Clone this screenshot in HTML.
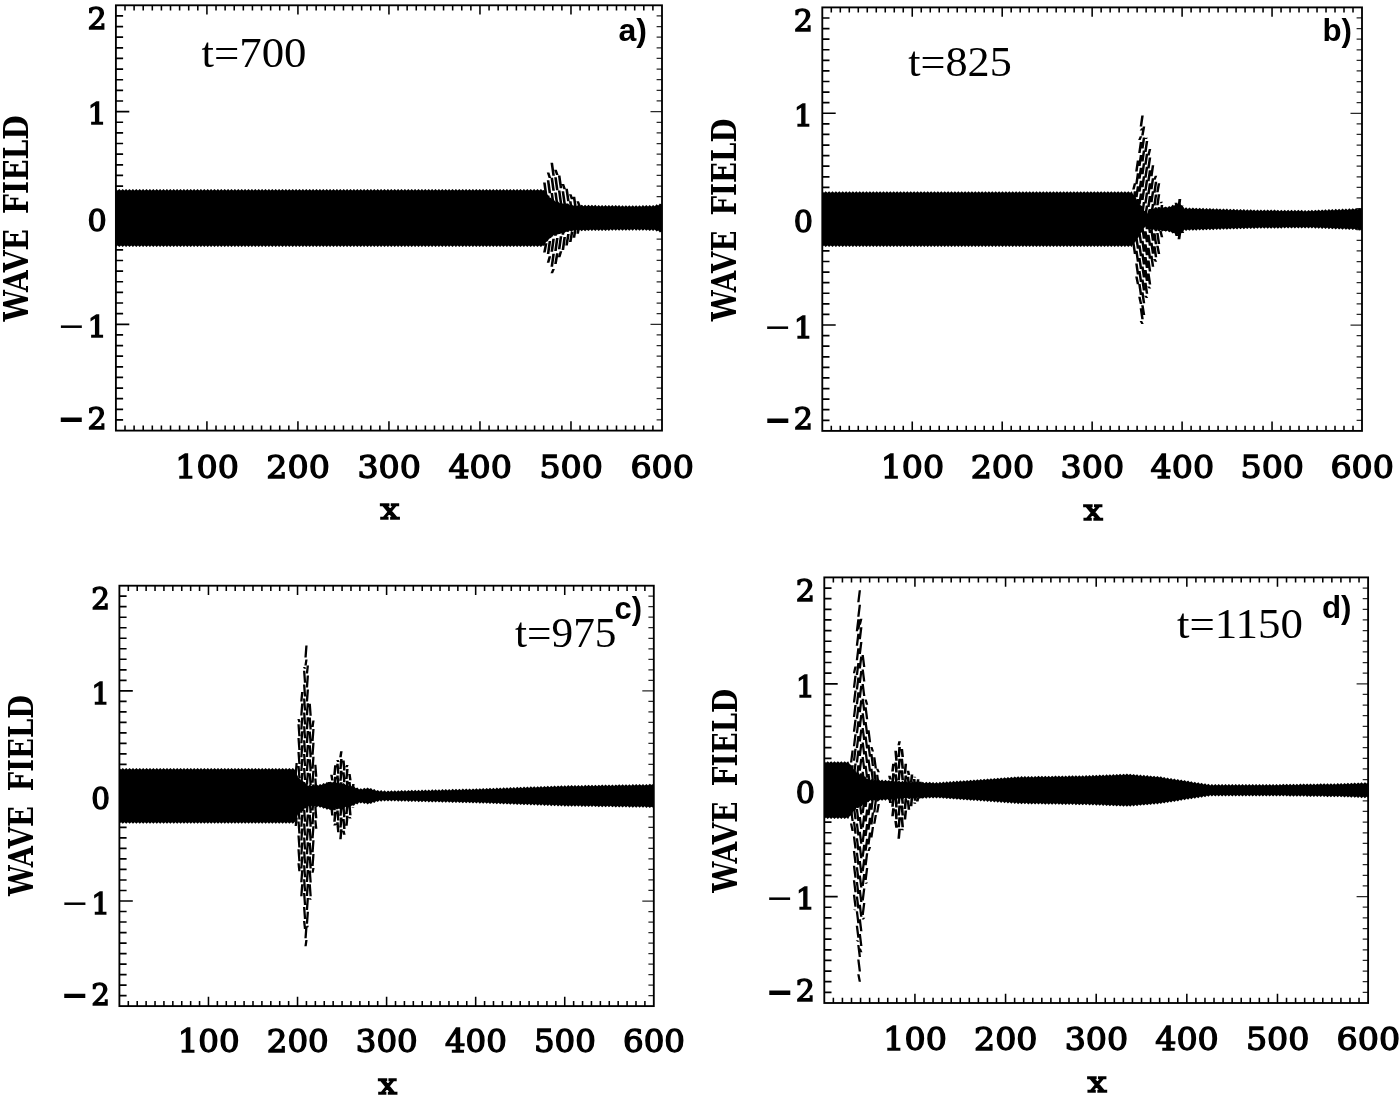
<!DOCTYPE html>
<html lang="en">
<head>
<meta charset="utf-8">
<title>Wave field snapshots</title>
<style>
html,body{margin:0;padding:0;background:#fff;}
body{width:1400px;height:1097px;overflow:hidden;}
svg{display:block;}
</style>
</head>
<body>
<svg width="1400" height="1097" viewBox="0 0 1400 1097" font-family='"Liberation Serif", "DejaVu Serif", serif' font-weight="bold" fill="#000">
<rect width="1400" height="1097" fill="#fff"/>
<g>
<path d="M125 5.3v5.2M134.1 5.3v5.2M143.21 5.3v5.2M152.31 5.3v5.2M161.41 5.3v5.2M170.51 5.3v5.2M179.61 5.3v5.2M188.71 5.3v5.2M197.81 5.3v5.2M206.92 5.3v9.3M216.02 5.3v5.2M225.12 5.3v5.2M234.22 5.3v5.2M243.32 5.3v5.2M252.43 5.3v5.2M261.53 5.3v5.2M270.63 5.3v5.2M279.73 5.3v5.2M288.83 5.3v5.2M297.93 5.3v9.3M307.03 5.3v5.2M316.14 5.3v5.2M325.24 5.3v5.2M334.34 5.3v5.2M343.44 5.3v5.2M352.54 5.3v5.2M361.64 5.3v5.2M370.75 5.3v5.2M379.85 5.3v5.2M388.95 5.3v9.3M398.05 5.3v5.2M407.15 5.3v5.2M416.25 5.3v5.2M425.36 5.3v5.2M434.46 5.3v5.2M443.56 5.3v5.2M452.66 5.3v5.2M461.76 5.3v5.2M470.87 5.3v5.2M479.97 5.3v9.3M489.07 5.3v5.2M498.17 5.3v5.2M507.27 5.3v5.2M516.37 5.3v5.2M525.48 5.3v5.2M534.58 5.3v5.2M543.68 5.3v5.2M552.78 5.3v5.2M561.88 5.3v5.2M570.98 5.3v9.3M580.09 5.3v5.2M589.19 5.3v5.2M598.29 5.3v5.2M607.39 5.3v5.2M616.49 5.3v5.2M625.59 5.3v5.2M634.69 5.3v5.2M643.8 5.3v5.2M652.9 5.3v5.2M125 430.6v-5.2M134.1 430.6v-5.2M143.21 430.6v-5.2M152.31 430.6v-5.2M161.41 430.6v-5.2M170.51 430.6v-5.2M179.61 430.6v-5.2M188.71 430.6v-5.2M197.81 430.6v-5.2M206.92 430.6v-9.3M216.02 430.6v-5.2M225.12 430.6v-5.2M234.22 430.6v-5.2M243.32 430.6v-5.2M252.43 430.6v-5.2M261.53 430.6v-5.2M270.63 430.6v-5.2M279.73 430.6v-5.2M288.83 430.6v-5.2M297.93 430.6v-9.3M307.03 430.6v-5.2M316.14 430.6v-5.2M325.24 430.6v-5.2M334.34 430.6v-5.2M343.44 430.6v-5.2M352.54 430.6v-5.2M361.64 430.6v-5.2M370.75 430.6v-5.2M379.85 430.6v-5.2M388.95 430.6v-9.3M398.05 430.6v-5.2M407.15 430.6v-5.2M416.25 430.6v-5.2M425.36 430.6v-5.2M434.46 430.6v-5.2M443.56 430.6v-5.2M452.66 430.6v-5.2M461.76 430.6v-5.2M470.87 430.6v-5.2M479.97 430.6v-9.3M489.07 430.6v-5.2M498.17 430.6v-5.2M507.27 430.6v-5.2M516.37 430.6v-5.2M525.48 430.6v-5.2M534.58 430.6v-5.2M543.68 430.6v-5.2M552.78 430.6v-5.2M561.88 430.6v-5.2M570.98 430.6v-9.3M580.09 430.6v-5.2M589.19 430.6v-5.2M598.29 430.6v-5.2M607.39 430.6v-5.2M616.49 430.6v-5.2M625.59 430.6v-5.2M634.69 430.6v-5.2M643.8 430.6v-5.2M652.9 430.6v-5.2" stroke="#000" stroke-width="1.55" fill="none"/>
<path d="M115.9 419.97h7.2M115.9 409.34h7.2M115.9 398.7h7.2M115.9 388.07h7.2M115.9 377.44h7.2M115.9 366.81h7.2M115.9 356.17h7.2M115.9 345.54h7.2M115.9 334.91h7.2M115.9 324.28h13.4M115.9 313.64h7.2M115.9 303.01h7.2M115.9 292.38h7.2M115.9 281.75h7.2M115.9 271.11h7.2M115.9 260.48h7.2M115.9 249.85h7.2M115.9 239.22h7.2M115.9 228.58h7.2M115.9 217.95h13.4M115.9 207.32h7.2M115.9 196.69h7.2M115.9 186.05h7.2M115.9 175.42h7.2M115.9 164.79h7.2M115.9 154.16h7.2M115.9 143.52h7.2M115.9 132.89h7.2M115.9 122.26h7.2M115.9 111.62h13.4M115.9 100.99h7.2M115.9 90.36h7.2M115.9 79.73h7.2M115.9 69.1h7.2M115.9 58.46h7.2M115.9 47.83h7.2M115.9 37.2h7.2M115.9 26.57h7.2M115.9 15.93h7.2" stroke="#000" stroke-width="1.7" fill="none"/>
<path d="M662 419.97h-5.4M662 409.34h-5.4M662 398.7h-5.4M662 388.07h-5.4M662 377.44h-5.4M662 366.81h-5.4M662 356.17h-5.4M662 345.54h-5.4M662 334.91h-5.4M662 324.28h-11.5M662 313.64h-5.4M662 303.01h-5.4M662 292.38h-5.4M662 281.75h-5.4M662 271.11h-5.4M662 260.48h-5.4M662 249.85h-5.4M662 239.22h-5.4M662 228.58h-5.4M662 217.95h-11.5M662 207.32h-5.4M662 196.69h-5.4M662 186.05h-5.4M662 175.42h-5.4M662 164.79h-5.4M662 154.16h-5.4M662 143.52h-5.4M662 132.89h-5.4M662 122.26h-5.4M662 111.62h-11.5M662 100.99h-5.4M662 90.36h-5.4M662 79.73h-5.4M662 69.1h-5.4M662 58.46h-5.4M662 47.83h-5.4M662 37.2h-5.4M662 26.57h-5.4M662 15.93h-5.4" stroke="#2a2a2a" stroke-width="1.25" fill="none"/>
<polygon points="115.9,188.92 117.6,190.42 119.3,188.92 121,190.42 122.7,188.92 124.4,190.42 126.1,188.92 127.8,190.42 129.5,188.92 131.2,190.42 132.9,188.92 134.6,190.42 136.3,188.92 138,190.42 139.7,188.92 141.4,190.42 143.1,188.92 144.8,190.42 146.5,188.92 148.2,190.42 149.9,188.92 151.6,190.42 153.3,188.92 155,190.42 156.7,188.92 158.4,190.42 160.1,188.92 161.8,190.42 163.5,188.92 165.2,190.42 166.9,188.92 168.6,190.42 170.3,188.92 172,190.42 173.7,188.92 175.4,190.42 177.1,188.92 178.8,190.42 180.5,188.92 182.2,190.42 183.9,188.92 185.6,190.42 187.3,188.92 189,190.42 190.7,188.92 192.4,190.42 194.1,188.92 195.8,190.42 197.5,188.92 199.2,190.42 200.9,188.92 202.6,190.42 204.3,188.92 206,190.42 207.7,188.92 209.4,190.42 211.1,188.92 212.8,190.42 214.5,188.92 216.2,190.42 217.9,188.92 219.6,190.42 221.3,188.92 223,190.42 224.7,188.92 226.4,190.42 228.1,188.92 229.8,190.42 231.5,188.92 233.2,190.42 234.9,188.92 236.6,190.42 238.3,188.92 240,190.42 241.7,188.92 243.4,190.42 245.1,188.92 246.8,190.42 248.5,188.92 250.2,190.42 251.9,188.92 253.6,190.42 255.3,188.92 257,190.42 258.7,188.92 260.4,190.42 262.1,188.92 263.8,190.42 265.5,188.92 267.2,190.42 268.9,188.92 270.6,190.42 272.3,188.92 274,190.42 275.7,188.92 277.4,190.42 279.1,188.92 280.8,190.42 282.5,188.92 284.2,190.42 285.9,188.92 287.6,190.42 289.3,188.92 291,190.42 292.7,188.92 294.4,190.42 296.1,188.92 297.8,190.42 299.5,188.92 301.2,190.42 302.9,188.92 304.6,190.42 306.3,188.92 308,190.42 309.7,188.92 311.4,190.42 313.1,188.92 314.8,190.42 316.5,188.92 318.2,190.42 319.9,188.92 321.6,190.42 323.3,188.92 325,190.42 326.7,188.92 328.4,190.42 330.1,188.92 331.8,190.42 333.5,188.92 335.2,190.42 336.9,188.92 338.6,190.42 340.3,188.92 342,190.42 343.7,188.92 345.4,190.42 347.1,188.92 348.8,190.42 350.5,188.92 352.2,190.42 353.9,188.92 355.6,190.42 357.3,188.92 359,190.42 360.7,188.92 362.4,190.42 364.1,188.92 365.8,190.42 367.5,188.92 369.2,190.42 370.9,188.92 372.6,190.42 374.3,188.92 376,190.42 377.7,188.92 379.4,190.42 381.1,188.92 382.8,190.42 384.5,188.92 386.2,190.42 387.9,188.92 389.6,190.42 391.3,188.92 393,190.42 394.7,188.92 396.4,190.42 398.1,188.92 399.8,190.42 401.5,188.92 403.2,190.42 404.9,188.92 406.6,190.42 408.3,188.92 410,190.42 411.7,188.92 413.4,190.42 415.1,188.92 416.8,190.42 418.5,188.92 420.2,190.42 421.9,188.92 423.6,190.42 425.3,188.92 427,190.42 428.7,188.92 430.4,190.42 432.1,188.92 433.8,190.42 435.5,188.92 437.2,190.42 438.9,188.92 440.6,190.42 442.3,188.92 444,190.42 445.7,188.92 447.4,190.42 449.1,188.92 450.8,190.42 452.5,188.92 454.2,190.42 455.9,188.92 457.6,190.42 459.3,188.92 461,190.42 462.7,188.92 464.4,190.42 466.1,188.92 467.8,190.42 469.5,188.92 471.2,190.42 472.9,188.92 474.6,190.42 476.3,188.92 478,190.42 479.7,188.92 481.4,190.42 483.1,188.92 484.8,190.42 486.5,188.92 488.2,190.42 489.9,188.92 491.6,190.42 493.3,188.92 495,190.42 496.7,188.92 498.4,190.42 500.1,188.92 501.8,190.42 503.5,188.92 505.2,190.42 506.9,188.92 508.6,190.42 510.3,188.92 512,190.42 513.7,188.92 515.4,190.42 517.1,188.92 518.8,190.42 520.5,188.92 522.2,190.42 523.9,188.92 525.6,190.42 527.3,188.92 529,190.42 530.7,188.92 532.4,190.42 534.1,188.92 535.8,190.42 537.5,188.92 539.2,190.42 540.9,188.92 542.6,190.42 544.3,189.84 546,193.88 547.7,194.69 549.4,197.75 551.1,197.81 552.8,200.87 554.5,200.39 556.2,202.32 557.9,201.24 559.6,203.17 561.3,202.09 563,204.02 564.7,202.94 566.4,204.87 568.1,203.59 569.8,205.31 571.5,204.02 573.2,205.74 574.9,204.46 576.6,206.16 578.3,204.67 580,206.19 581.7,204.71 583.4,206.23 585.1,204.75 586.8,206.27 588.5,204.79 590.2,206.3 591.9,204.82 593.6,206.34 595.3,204.86 597,206.38 598.7,204.9 600.4,206.42 602.1,204.93 603.8,206.45 605.5,204.97 607.2,206.49 608.9,205.01 610.6,206.53 612.3,205.05 614,206.56 615.7,205.08 617.4,206.6 619.1,205.12 620.8,206.64 622.5,205.16 624.2,206.68 625.9,205.2 627.6,206.71 629.3,205.23 631,206.75 632.7,205.27 634.4,206.79 636.1,205.26 637.8,206.73 639.5,205.19 641.2,206.65 642.9,205.12 644.6,206.58 646.3,205.05 648,206.51 649.7,204.97 651.4,206.44 653.1,204.9 654.8,206.34 656.5,204.37 658.2,205.4 659.9,203.43 661.6,204.46 662,203.6 662,232.3 661.6,231.44 659.9,232.47 658.2,230.5 656.5,231.53 654.8,229.56 653.1,231 651.4,229.46 649.7,230.93 648,229.39 646.3,230.85 644.6,229.32 642.9,230.78 641.2,229.25 639.5,230.71 637.8,229.17 636.1,230.64 634.4,229.11 632.7,230.63 631,229.15 629.3,230.67 627.6,229.19 625.9,230.7 624.2,229.22 622.5,230.74 620.8,229.26 619.1,230.78 617.4,229.3 615.7,230.82 614,229.34 612.3,230.85 610.6,229.37 608.9,230.89 607.2,229.41 605.5,230.93 603.8,229.45 602.1,230.97 600.4,229.48 598.7,231 597,229.52 595.3,231.04 593.6,229.56 591.9,231.08 590.2,229.6 588.5,231.11 586.8,229.63 585.1,231.15 583.4,229.67 581.7,231.19 580,229.71 578.3,231.23 576.6,229.74 574.9,231.44 573.2,230.16 571.5,231.88 569.8,230.59 568.1,232.31 566.4,231.03 564.7,232.96 563,231.88 561.3,233.81 559.6,232.73 557.9,234.66 556.2,233.58 554.5,235.51 552.8,235.03 551.1,238.09 549.4,238.15 547.7,241.21 546,242.02 544.3,246.06 542.6,245.48 540.9,246.98 539.2,245.48 537.5,246.98 535.8,245.48 534.1,246.98 532.4,245.48 530.7,246.98 529,245.48 527.3,246.98 525.6,245.48 523.9,246.98 522.2,245.48 520.5,246.98 518.8,245.48 517.1,246.98 515.4,245.48 513.7,246.98 512,245.48 510.3,246.98 508.6,245.48 506.9,246.98 505.2,245.48 503.5,246.98 501.8,245.48 500.1,246.98 498.4,245.48 496.7,246.98 495,245.48 493.3,246.98 491.6,245.48 489.9,246.98 488.2,245.48 486.5,246.98 484.8,245.48 483.1,246.98 481.4,245.48 479.7,246.98 478,245.48 476.3,246.98 474.6,245.48 472.9,246.98 471.2,245.48 469.5,246.98 467.8,245.48 466.1,246.98 464.4,245.48 462.7,246.98 461,245.48 459.3,246.98 457.6,245.48 455.9,246.98 454.2,245.48 452.5,246.98 450.8,245.48 449.1,246.98 447.4,245.48 445.7,246.98 444,245.48 442.3,246.98 440.6,245.48 438.9,246.98 437.2,245.48 435.5,246.98 433.8,245.48 432.1,246.98 430.4,245.48 428.7,246.98 427,245.48 425.3,246.98 423.6,245.48 421.9,246.98 420.2,245.48 418.5,246.98 416.8,245.48 415.1,246.98 413.4,245.48 411.7,246.98 410,245.48 408.3,246.98 406.6,245.48 404.9,246.98 403.2,245.48 401.5,246.98 399.8,245.48 398.1,246.98 396.4,245.48 394.7,246.98 393,245.48 391.3,246.98 389.6,245.48 387.9,246.98 386.2,245.48 384.5,246.98 382.8,245.48 381.1,246.98 379.4,245.48 377.7,246.98 376,245.48 374.3,246.98 372.6,245.48 370.9,246.98 369.2,245.48 367.5,246.98 365.8,245.48 364.1,246.98 362.4,245.48 360.7,246.98 359,245.48 357.3,246.98 355.6,245.48 353.9,246.98 352.2,245.48 350.5,246.98 348.8,245.48 347.1,246.98 345.4,245.48 343.7,246.98 342,245.48 340.3,246.98 338.6,245.48 336.9,246.98 335.2,245.48 333.5,246.98 331.8,245.48 330.1,246.98 328.4,245.48 326.7,246.98 325,245.48 323.3,246.98 321.6,245.48 319.9,246.98 318.2,245.48 316.5,246.98 314.8,245.48 313.1,246.98 311.4,245.48 309.7,246.98 308,245.48 306.3,246.98 304.6,245.48 302.9,246.98 301.2,245.48 299.5,246.98 297.8,245.48 296.1,246.98 294.4,245.48 292.7,246.98 291,245.48 289.3,246.98 287.6,245.48 285.9,246.98 284.2,245.48 282.5,246.98 280.8,245.48 279.1,246.98 277.4,245.48 275.7,246.98 274,245.48 272.3,246.98 270.6,245.48 268.9,246.98 267.2,245.48 265.5,246.98 263.8,245.48 262.1,246.98 260.4,245.48 258.7,246.98 257,245.48 255.3,246.98 253.6,245.48 251.9,246.98 250.2,245.48 248.5,246.98 246.8,245.48 245.1,246.98 243.4,245.48 241.7,246.98 240,245.48 238.3,246.98 236.6,245.48 234.9,246.98 233.2,245.48 231.5,246.98 229.8,245.48 228.1,246.98 226.4,245.48 224.7,246.98 223,245.48 221.3,246.98 219.6,245.48 217.9,246.98 216.2,245.48 214.5,246.98 212.8,245.48 211.1,246.98 209.4,245.48 207.7,246.98 206,245.48 204.3,246.98 202.6,245.48 200.9,246.98 199.2,245.48 197.5,246.98 195.8,245.48 194.1,246.98 192.4,245.48 190.7,246.98 189,245.48 187.3,246.98 185.6,245.48 183.9,246.98 182.2,245.48 180.5,246.98 178.8,245.48 177.1,246.98 175.4,245.48 173.7,246.98 172,245.48 170.3,246.98 168.6,245.48 166.9,246.98 165.2,245.48 163.5,246.98 161.8,245.48 160.1,246.98 158.4,245.48 156.7,246.98 155,245.48 153.3,246.98 151.6,245.48 149.9,246.98 148.2,245.48 146.5,246.98 144.8,245.48 143.1,246.98 141.4,245.48 139.7,246.98 138,245.48 136.3,246.98 134.6,245.48 132.9,246.98 131.2,245.48 129.5,246.98 127.8,245.48 126.1,246.98 124.4,245.48 122.7,246.98 121,245.48 119.3,246.98 117.6,245.48 115.9,246.98" fill="#000"/>
<path d="M539.39 197.32l2.6 0l1.8 5.7l-2.6 0zM539.39 205.22l2.6 0l1.8 13l-2.6 0zM541.19 220.42l2.6 0l-1.8 13l-2.6 0zM541.19 235.62l2.6 0l-1.8 3.59l-2.6 0zM543.09 182.47l2.6 0l1.8 13l-2.6 0zM543.09 197.67l2.6 0l1.8 13l-2.6 0zM544.89 212.87l2.6 0l-1.8 13l-2.6 0zM544.89 228.07l2.6 0l-1.8 13l-2.6 0zM544.89 243.27l2.6 0l-1.8 9.23l-2.6 0zM546.79 172.58l2.6 0l1.8 5.5l-2.6 0zM546.79 180.28l2.6 0l1.8 13l-2.6 0zM546.79 195.48l2.6 0l1.8 13l-2.6 0zM546.79 210.68l2.6 0l1.8 13l-2.6 0zM548.59 225.88l2.6 0l-1.8 13l-2.6 0zM548.59 241.08l2.6 0l-1.8 13l-2.6 0zM548.59 256.28l2.6 0l-1.8 6.55l-2.6 0zM550.49 162.66l2.6 0l1.8 13l-2.6 0zM550.49 177.86l2.6 0l1.8 13l-2.6 0zM550.49 193.06l2.6 0l1.8 13l-2.6 0zM550.49 208.26l2.6 0l1.8 13l-2.6 0zM552.29 223.46l2.6 0l-1.8 13l-2.6 0zM552.29 238.66l2.6 0l-1.8 13l-2.6 0zM552.29 253.86l2.6 0l-1.8 13l-2.6 0zM552.29 269.06l2.6 0l-1.8 4.18l-2.6 0zM554.19 169.77l2.6 0l1.8 5.3l-2.6 0zM554.19 177.27l2.6 0l1.8 13l-2.6 0zM554.19 192.47l2.6 0l1.8 13l-2.6 0zM554.19 207.67l2.6 0l1.8 13l-2.6 0zM555.99 222.87l2.6 0l-1.8 13l-2.6 0zM555.99 238.07l2.6 0l-1.8 13l-2.6 0zM555.99 253.27l2.6 0l-1.8 10.77l-2.6 0zM557.89 175.53l2.6 0l1.8 12.8l-2.6 0zM557.89 190.53l2.6 0l1.8 13l-2.6 0zM557.89 205.73l2.6 0l1.8 13l-2.6 0zM559.69 220.93l2.6 0l-1.8 13l-2.6 0zM559.69 236.13l2.6 0l-1.8 13l-2.6 0zM559.69 251.33l2.6 0l-1.8 5.94l-2.6 0zM561.59 184.04l2.6 0l1.8 5.1l-2.6 0zM561.59 191.34l2.6 0l1.8 13l-2.6 0zM561.59 206.54l2.6 0l1.8 13l-2.6 0zM563.39 221.74l2.6 0l-1.8 13l-2.6 0zM563.39 236.94l2.6 0l-1.8 13l-2.6 0zM565.29 188.75l2.6 0l1.8 12.6l-2.6 0zM565.29 203.55l2.6 0l1.8 13l-2.6 0zM567.09 218.75l2.6 0l-1.8 13l-2.6 0zM567.09 233.95l2.6 0l-1.8 11.52l-2.6 0zM568.99 194.23l2.6 0l1.8 4.9l-2.6 0zM568.99 201.33l2.6 0l1.8 13l-2.6 0zM570.79 216.53l2.6 0l-1.8 13l-2.6 0zM570.79 231.73l2.6 0l-1.8 10.2l-2.6 0zM572.69 196.75l2.6 0l1.8 12.4l-2.6 0zM572.69 211.35l2.6 0l1.8 13l-2.6 0zM574.49 226.55l2.6 0l-1.8 11.31l-2.6 0zM576.39 201.27l2.6 0l1.8 4.7l-2.6 0zM576.39 208.17l2.6 0l1.8 13l-2.6 0zM578.19 223.37l2.6 0l-1.8 10.43l-2.6 0zM580.09 205.55l2.6 0l1.8 12.2l-2.6 0zM581.89 219.95l2.6 0l-1.8 9.26l-2.6 0z" fill="#000"/>
<rect x="115.9" y="5.3" width="546.1" height="425.3" fill="none" stroke="#000" stroke-width="1.85"/>
<text x="106.6" y="28.6" text-anchor="end" font-size="30.2" font-family='"DejaVu Serif", "Liberation Serif", serif' font-weight="normal" stroke="#000" stroke-width="1.35">2</text>
<text x="106.6" y="124.42" text-anchor="end" font-size="30.2" font-family='"DejaVu Serif", "Liberation Serif", serif' font-weight="normal" stroke="#000" stroke-width="1.35">1</text>
<text x="106.6" y="230.75" text-anchor="end" font-size="30.2" font-family='"DejaVu Serif", "Liberation Serif", serif' font-weight="normal" stroke="#000" stroke-width="1.35">0</text>
<text x="106.6" y="337.08" text-anchor="end" font-size="30.2" font-family='"DejaVu Serif", "Liberation Serif", serif' font-weight="normal" stroke="#000" stroke-width="1.35">1</text>
<text x="57.4" y="336.08" font-size="30.2" font-family='"DejaVu Serif", "Liberation Serif", serif' font-weight="normal" stroke="#000" stroke-width="0.2" textLength="27.8" lengthAdjust="spacingAndGlyphs">−</text>
<text x="106.6" y="429" text-anchor="end" font-size="30.2" font-family='"DejaVu Serif", "Liberation Serif", serif' font-weight="normal" stroke="#000" stroke-width="1.35">2</text>
<text x="58.5" y="429.3" font-size="30.2" font-family='"DejaVu Serif", "Liberation Serif", serif' font-weight="normal" stroke="#000" stroke-width="1.9" textLength="25.6" lengthAdjust="spacingAndGlyphs">−</text>
<text x="207.12" y="478" text-anchor="middle" font-size="31.9" textLength="63.5" lengthAdjust="spacingAndGlyphs" font-family='"DejaVu Serif", "Liberation Serif", serif' font-weight="normal" stroke="#000" stroke-width="1.35">100</text>
<text x="298.13" y="478" text-anchor="middle" font-size="31.9" textLength="63.5" lengthAdjust="spacingAndGlyphs" font-family='"DejaVu Serif", "Liberation Serif", serif' font-weight="normal" stroke="#000" stroke-width="1.35">200</text>
<text x="389.15" y="478" text-anchor="middle" font-size="31.9" textLength="63.5" lengthAdjust="spacingAndGlyphs" font-family='"DejaVu Serif", "Liberation Serif", serif' font-weight="normal" stroke="#000" stroke-width="1.35">300</text>
<text x="480.17" y="478" text-anchor="middle" font-size="31.9" textLength="63.5" lengthAdjust="spacingAndGlyphs" font-family='"DejaVu Serif", "Liberation Serif", serif' font-weight="normal" stroke="#000" stroke-width="1.35">400</text>
<text x="571.18" y="478" text-anchor="middle" font-size="31.9" textLength="63.5" lengthAdjust="spacingAndGlyphs" font-family='"DejaVu Serif", "Liberation Serif", serif' font-weight="normal" stroke="#000" stroke-width="1.35">500</text>
<text x="662.2" y="478" text-anchor="middle" font-size="31.9" textLength="63.5" lengthAdjust="spacingAndGlyphs" font-family='"DejaVu Serif", "Liberation Serif", serif' font-weight="normal" stroke="#000" stroke-width="1.35">600</text>
<text x="389.95" y="519.2" text-anchor="middle" font-size="28.3" textLength="19.3" lengthAdjust="spacingAndGlyphs" font-family='"DejaVu Serif", "Liberation Serif", serif' font-weight="normal" stroke="#000" stroke-width="1.35">x</text>
<text transform="translate(27.8 218.4) rotate(-90)" x="0" y="0" text-anchor="middle" font-family='"DejaVu Serif Condensed", "DejaVu Serif", "Liberation Serif", serif' font-size="33.6" word-spacing="6" textLength="206" lengthAdjust="spacingAndGlyphs">WAVE FIELD</text>
<text x="201.5" y="67.2" font-size="43" font-weight="normal" textLength="105" lengthAdjust="spacingAndGlyphs">t=700</text>
<text x="618.5" y="41" font-size="31" font-family='"Liberation Sans", "DejaVu Sans", sans-serif' textLength="28.5" lengthAdjust="spacingAndGlyphs">a)</text>
</g>
<g>
<path d="M831.29 7.4v5.2M840.29 7.4v5.2M849.28 7.4v5.2M858.28 7.4v5.2M867.27 7.4v5.2M876.27 7.4v5.2M885.26 7.4v5.2M894.26 7.4v5.2M903.25 7.4v5.2M912.25 7.4v9.3M921.25 7.4v5.2M930.24 7.4v5.2M939.23 7.4v5.2M948.23 7.4v5.2M957.22 7.4v5.2M966.22 7.4v5.2M975.21 7.4v5.2M984.21 7.4v5.2M993.2 7.4v5.2M1002.2 7.4v9.3M1011.19 7.4v5.2M1020.19 7.4v5.2M1029.18 7.4v5.2M1038.18 7.4v5.2M1047.17 7.4v5.2M1056.17 7.4v5.2M1065.16 7.4v5.2M1074.16 7.4v5.2M1083.15 7.4v5.2M1092.15 7.4v9.3M1101.14 7.4v5.2M1110.14 7.4v5.2M1119.13 7.4v5.2M1128.13 7.4v5.2M1137.12 7.4v5.2M1146.12 7.4v5.2M1155.12 7.4v5.2M1164.11 7.4v5.2M1173.11 7.4v5.2M1182.1 7.4v9.3M1191.1 7.4v5.2M1200.09 7.4v5.2M1209.09 7.4v5.2M1218.08 7.4v5.2M1227.08 7.4v5.2M1236.07 7.4v5.2M1245.07 7.4v5.2M1254.06 7.4v5.2M1263.05 7.4v5.2M1272.05 7.4v9.3M1281.05 7.4v5.2M1290.04 7.4v5.2M1299.03 7.4v5.2M1308.03 7.4v5.2M1317.03 7.4v5.2M1326.02 7.4v5.2M1335.01 7.4v5.2M1344.01 7.4v5.2M1353.01 7.4v5.2M831.29 430.9v-5.2M840.29 430.9v-5.2M849.28 430.9v-5.2M858.28 430.9v-5.2M867.27 430.9v-5.2M876.27 430.9v-5.2M885.26 430.9v-5.2M894.26 430.9v-5.2M903.25 430.9v-5.2M912.25 430.9v-9.3M921.25 430.9v-5.2M930.24 430.9v-5.2M939.23 430.9v-5.2M948.23 430.9v-5.2M957.22 430.9v-5.2M966.22 430.9v-5.2M975.21 430.9v-5.2M984.21 430.9v-5.2M993.2 430.9v-5.2M1002.2 430.9v-9.3M1011.19 430.9v-5.2M1020.19 430.9v-5.2M1029.18 430.9v-5.2M1038.18 430.9v-5.2M1047.17 430.9v-5.2M1056.17 430.9v-5.2M1065.16 430.9v-5.2M1074.16 430.9v-5.2M1083.15 430.9v-5.2M1092.15 430.9v-9.3M1101.14 430.9v-5.2M1110.14 430.9v-5.2M1119.13 430.9v-5.2M1128.13 430.9v-5.2M1137.12 430.9v-5.2M1146.12 430.9v-5.2M1155.12 430.9v-5.2M1164.11 430.9v-5.2M1173.11 430.9v-5.2M1182.1 430.9v-9.3M1191.1 430.9v-5.2M1200.09 430.9v-5.2M1209.09 430.9v-5.2M1218.08 430.9v-5.2M1227.08 430.9v-5.2M1236.07 430.9v-5.2M1245.07 430.9v-5.2M1254.06 430.9v-5.2M1263.05 430.9v-5.2M1272.05 430.9v-9.3M1281.05 430.9v-5.2M1290.04 430.9v-5.2M1299.03 430.9v-5.2M1308.03 430.9v-5.2M1317.03 430.9v-5.2M1326.02 430.9v-5.2M1335.01 430.9v-5.2M1344.01 430.9v-5.2M1353.01 430.9v-5.2" stroke="#000" stroke-width="1.55" fill="none"/>
<path d="M822.3 420.31h7.2M822.3 409.72h7.2M822.3 399.14h7.2M822.3 388.55h7.2M822.3 377.96h7.2M822.3 367.37h7.2M822.3 356.79h7.2M822.3 346.2h7.2M822.3 335.61h7.2M822.3 325.02h13.4M822.3 314.44h7.2M822.3 303.85h7.2M822.3 293.26h7.2M822.3 282.67h7.2M822.3 272.09h7.2M822.3 261.5h7.2M822.3 250.91h7.2M822.3 240.32h7.2M822.3 229.74h7.2M822.3 219.15h13.4M822.3 208.56h7.2M822.3 197.97h7.2M822.3 187.39h7.2M822.3 176.8h7.2M822.3 166.21h7.2M822.3 155.62h7.2M822.3 145.04h7.2M822.3 134.45h7.2M822.3 123.86h7.2M822.3 113.27h13.4M822.3 102.69h7.2M822.3 92.1h7.2M822.3 81.51h7.2M822.3 70.93h7.2M822.3 60.34h7.2M822.3 49.75h7.2M822.3 39.16h7.2M822.3 28.57h7.2M822.3 17.99h7.2" stroke="#000" stroke-width="1.7" fill="none"/>
<path d="M1362 420.31h-5.4M1362 409.72h-5.4M1362 399.14h-5.4M1362 388.55h-5.4M1362 377.96h-5.4M1362 367.37h-5.4M1362 356.79h-5.4M1362 346.2h-5.4M1362 335.61h-5.4M1362 325.02h-11.5M1362 314.44h-5.4M1362 303.85h-5.4M1362 293.26h-5.4M1362 282.67h-5.4M1362 272.09h-5.4M1362 261.5h-5.4M1362 250.91h-5.4M1362 240.32h-5.4M1362 229.74h-5.4M1362 219.15h-11.5M1362 208.56h-5.4M1362 197.97h-5.4M1362 187.39h-5.4M1362 176.8h-5.4M1362 166.21h-5.4M1362 155.62h-5.4M1362 145.04h-5.4M1362 134.45h-5.4M1362 123.86h-5.4M1362 113.27h-11.5M1362 102.69h-5.4M1362 92.1h-5.4M1362 81.51h-5.4M1362 70.93h-5.4M1362 60.34h-5.4M1362 49.75h-5.4M1362 39.16h-5.4M1362 28.57h-5.4M1362 17.99h-5.4" stroke="#2a2a2a" stroke-width="1.25" fill="none"/>
<polygon points="822.3,191.19 824,192.69 825.7,191.19 827.4,192.69 829.1,191.19 830.8,192.69 832.5,191.19 834.2,192.69 835.9,191.19 837.6,192.69 839.3,191.19 841,192.69 842.7,191.19 844.4,192.69 846.1,191.19 847.8,192.69 849.5,191.19 851.2,192.69 852.9,191.19 854.6,192.69 856.3,191.19 858,192.69 859.7,191.19 861.4,192.69 863.1,191.19 864.8,192.69 866.5,191.19 868.2,192.69 869.9,191.19 871.6,192.69 873.3,191.19 875,192.69 876.7,191.19 878.4,192.69 880.1,191.19 881.8,192.69 883.5,191.19 885.2,192.69 886.9,191.19 888.6,192.69 890.3,191.19 892,192.69 893.7,191.19 895.4,192.69 897.1,191.19 898.8,192.69 900.5,191.19 902.2,192.69 903.9,191.19 905.6,192.69 907.3,191.19 909,192.69 910.7,191.19 912.4,192.69 914.1,191.19 915.8,192.69 917.5,191.19 919.2,192.69 920.9,191.19 922.6,192.69 924.3,191.19 926,192.69 927.7,191.19 929.4,192.69 931.1,191.19 932.8,192.69 934.5,191.19 936.2,192.69 937.9,191.19 939.6,192.69 941.3,191.19 943,192.69 944.7,191.19 946.4,192.69 948.1,191.19 949.8,192.69 951.5,191.19 953.2,192.69 954.9,191.19 956.6,192.69 958.3,191.19 960,192.69 961.7,191.19 963.4,192.69 965.1,191.19 966.8,192.69 968.5,191.19 970.2,192.69 971.9,191.19 973.6,192.69 975.3,191.19 977,192.69 978.7,191.19 980.4,192.69 982.1,191.19 983.8,192.69 985.5,191.19 987.2,192.69 988.9,191.19 990.6,192.69 992.3,191.19 994,192.69 995.7,191.19 997.4,192.69 999.1,191.19 1000.8,192.69 1002.5,191.19 1004.2,192.69 1005.9,191.19 1007.6,192.69 1009.3,191.19 1011,192.69 1012.7,191.19 1014.4,192.69 1016.1,191.19 1017.8,192.69 1019.5,191.19 1021.2,192.69 1022.9,191.19 1024.6,192.69 1026.3,191.19 1028,192.69 1029.7,191.19 1031.4,192.69 1033.1,191.19 1034.8,192.69 1036.5,191.19 1038.2,192.69 1039.9,191.19 1041.6,192.69 1043.3,191.19 1045,192.69 1046.7,191.19 1048.4,192.69 1050.1,191.19 1051.8,192.69 1053.5,191.19 1055.2,192.69 1056.9,191.19 1058.6,192.69 1060.3,191.19 1062,192.69 1063.7,191.19 1065.4,192.69 1067.1,191.19 1068.8,192.69 1070.5,191.19 1072.2,192.69 1073.9,191.19 1075.6,192.69 1077.3,191.19 1079,192.69 1080.7,191.19 1082.4,192.69 1084.1,191.19 1085.8,192.69 1087.5,191.19 1089.2,192.69 1090.9,191.19 1092.6,192.69 1094.3,191.19 1096,192.69 1097.7,191.19 1099.4,192.69 1101.1,191.19 1102.8,192.69 1104.5,191.19 1106.2,192.69 1107.9,191.19 1109.6,192.69 1111.3,191.19 1113,192.69 1114.7,191.19 1116.4,192.69 1118.1,191.19 1119.8,192.69 1121.5,191.19 1123.2,192.69 1124.9,191.19 1126.6,192.69 1128.3,191.19 1130,192.69 1131.7,191.19 1133.4,194.93 1135.1,195.71 1136.8,199.63 1138.5,200.79 1140.2,204.96 1141.9,206.11 1143.6,210.16 1145.3,211.2 1147,213.88 1148.7,209.52 1150.4,209.26 1152.1,207.61 1153.8,208.97 1155.5,207.33 1157.2,208.68 1158.9,207.04 1160.6,208.4 1162.3,206.75 1164,208.11 1165.7,206.47 1167.4,207.83 1169.1,206.04 1170.8,206.92 1172.5,204.79 1174.2,205.67 1175.9,203.52 1177.6,204.02 1179.3,201.52 1181,205.03 1182.7,205.73 1184.4,208.8 1186.1,207.35 1187.8,208.9 1189.5,207.45 1191.2,209 1192.9,207.55 1194.6,209.11 1196.3,207.66 1198,209.21 1199.7,207.76 1201.4,209.31 1203.1,207.86 1204.8,209.41 1206.5,207.97 1208.2,209.52 1209.9,208.07 1211.6,209.62 1213.3,208.17 1215,209.72 1216.7,208.27 1218.4,209.82 1220.1,208.38 1221.8,209.93 1223.5,208.48 1225.2,210.03 1226.9,208.58 1228.6,210.13 1230.3,208.68 1232,210.23 1233.7,208.79 1235.4,210.34 1237.1,208.89 1238.8,210.44 1240.5,208.99 1242.2,210.54 1243.9,209.09 1245.6,210.65 1247.3,209.2 1249,210.75 1250.7,209.3 1252.4,210.85 1254.1,209.4 1255.8,210.92 1257.5,209.43 1259.2,210.95 1260.9,209.47 1262.6,210.98 1264.3,209.5 1266,211.02 1267.7,209.53 1269.4,211.05 1271.1,209.57 1272.8,211.08 1274.5,209.6 1276.2,211.12 1277.9,209.63 1279.6,211.15 1281.3,209.67 1283,211.18 1284.7,209.7 1286.4,211.22 1288.1,209.73 1289.8,211.25 1291.5,209.77 1293.2,211.28 1294.9,209.8 1296.6,211.32 1298.3,209.83 1300,211.35 1301.7,209.87 1303.4,211.38 1305.1,209.9 1306.8,211.42 1308.5,209.91 1310.2,211.34 1311.9,209.78 1313.6,211.21 1315.3,209.64 1317,211.08 1318.7,209.51 1320.4,210.94 1322.1,209.38 1323.8,210.81 1325.5,209.24 1327.2,210.68 1328.9,209.11 1330.6,210.54 1332.3,208.98 1334,210.41 1335.7,208.84 1337.4,210.28 1339.1,208.71 1340.8,210.14 1342.5,208.58 1344.2,210.01 1345.9,208.44 1347.6,209.88 1349.3,208.31 1351,209.74 1352.7,208.18 1354.4,209.61 1356.1,208.04 1357.8,209.48 1359.5,207.91 1361.2,209.34 1362,208.56 1362,229.74 1361.2,228.96 1359.5,230.39 1357.8,228.82 1356.1,230.26 1354.4,228.69 1352.7,230.12 1351,228.56 1349.3,229.99 1347.6,228.42 1345.9,229.86 1344.2,228.29 1342.5,229.72 1340.8,228.16 1339.1,229.59 1337.4,228.02 1335.7,229.46 1334,227.89 1332.3,229.32 1330.6,227.76 1328.9,229.19 1327.2,227.62 1325.5,229.06 1323.8,227.49 1322.1,228.92 1320.4,227.36 1318.7,228.79 1317,227.22 1315.3,228.66 1313.6,227.09 1311.9,228.52 1310.2,226.96 1308.5,228.39 1306.8,226.88 1305.1,228.4 1303.4,226.92 1301.7,228.43 1300,226.95 1298.3,228.47 1296.6,226.98 1294.9,228.5 1293.2,227.02 1291.5,228.53 1289.8,227.05 1288.1,228.57 1286.4,227.08 1284.7,228.6 1283,227.12 1281.3,228.63 1279.6,227.15 1277.9,228.67 1276.2,227.18 1274.5,228.7 1272.8,227.22 1271.1,228.73 1269.4,227.25 1267.7,228.77 1266,227.28 1264.3,228.8 1262.6,227.32 1260.9,228.83 1259.2,227.35 1257.5,228.87 1255.8,227.38 1254.1,228.9 1252.4,227.45 1250.7,229 1249,227.55 1247.3,229.1 1245.6,227.65 1243.9,229.21 1242.2,227.76 1240.5,229.31 1238.8,227.86 1237.1,229.41 1235.4,227.96 1233.7,229.51 1232,228.07 1230.3,229.62 1228.6,228.17 1226.9,229.72 1225.2,228.27 1223.5,229.82 1221.8,228.37 1220.1,229.92 1218.4,228.48 1216.7,230.03 1215,228.58 1213.3,230.13 1211.6,228.68 1209.9,230.23 1208.2,228.78 1206.5,230.33 1204.8,228.89 1203.1,230.44 1201.4,228.99 1199.7,230.54 1198,229.09 1196.3,230.64 1194.6,229.19 1192.9,230.75 1191.2,229.3 1189.5,230.85 1187.8,229.4 1186.1,230.95 1184.4,229.5 1182.7,232.57 1181,233.27 1179.3,236.78 1177.6,234.28 1175.9,234.78 1174.2,232.63 1172.5,233.51 1170.8,231.38 1169.1,232.26 1167.4,230.47 1165.7,231.83 1164,230.19 1162.3,231.55 1160.6,229.9 1158.9,231.26 1157.2,229.62 1155.5,230.97 1153.8,229.33 1152.1,230.69 1150.4,229.04 1148.7,228.78 1147,224.42 1145.3,227.1 1143.6,228.14 1141.9,232.19 1140.2,233.34 1138.5,237.51 1136.8,238.67 1135.1,242.59 1133.4,243.37 1131.7,247.11 1130,245.61 1128.3,247.11 1126.6,245.61 1124.9,247.11 1123.2,245.61 1121.5,247.11 1119.8,245.61 1118.1,247.11 1116.4,245.61 1114.7,247.11 1113,245.61 1111.3,247.11 1109.6,245.61 1107.9,247.11 1106.2,245.61 1104.5,247.11 1102.8,245.61 1101.1,247.11 1099.4,245.61 1097.7,247.11 1096,245.61 1094.3,247.11 1092.6,245.61 1090.9,247.11 1089.2,245.61 1087.5,247.11 1085.8,245.61 1084.1,247.11 1082.4,245.61 1080.7,247.11 1079,245.61 1077.3,247.11 1075.6,245.61 1073.9,247.11 1072.2,245.61 1070.5,247.11 1068.8,245.61 1067.1,247.11 1065.4,245.61 1063.7,247.11 1062,245.61 1060.3,247.11 1058.6,245.61 1056.9,247.11 1055.2,245.61 1053.5,247.11 1051.8,245.61 1050.1,247.11 1048.4,245.61 1046.7,247.11 1045,245.61 1043.3,247.11 1041.6,245.61 1039.9,247.11 1038.2,245.61 1036.5,247.11 1034.8,245.61 1033.1,247.11 1031.4,245.61 1029.7,247.11 1028,245.61 1026.3,247.11 1024.6,245.61 1022.9,247.11 1021.2,245.61 1019.5,247.11 1017.8,245.61 1016.1,247.11 1014.4,245.61 1012.7,247.11 1011,245.61 1009.3,247.11 1007.6,245.61 1005.9,247.11 1004.2,245.61 1002.5,247.11 1000.8,245.61 999.1,247.11 997.4,245.61 995.7,247.11 994,245.61 992.3,247.11 990.6,245.61 988.9,247.11 987.2,245.61 985.5,247.11 983.8,245.61 982.1,247.11 980.4,245.61 978.7,247.11 977,245.61 975.3,247.11 973.6,245.61 971.9,247.11 970.2,245.61 968.5,247.11 966.8,245.61 965.1,247.11 963.4,245.61 961.7,247.11 960,245.61 958.3,247.11 956.6,245.61 954.9,247.11 953.2,245.61 951.5,247.11 949.8,245.61 948.1,247.11 946.4,245.61 944.7,247.11 943,245.61 941.3,247.11 939.6,245.61 937.9,247.11 936.2,245.61 934.5,247.11 932.8,245.61 931.1,247.11 929.4,245.61 927.7,247.11 926,245.61 924.3,247.11 922.6,245.61 920.9,247.11 919.2,245.61 917.5,247.11 915.8,245.61 914.1,247.11 912.4,245.61 910.7,247.11 909,245.61 907.3,247.11 905.6,245.61 903.9,247.11 902.2,245.61 900.5,247.11 898.8,245.61 897.1,247.11 895.4,245.61 893.7,247.11 892,245.61 890.3,247.11 888.6,245.61 886.9,247.11 885.2,245.61 883.5,247.11 881.8,245.61 880.1,247.11 878.4,245.61 876.7,247.11 875,245.61 873.3,247.11 871.6,245.61 869.9,247.11 868.2,245.61 866.5,247.11 864.8,245.61 863.1,247.11 861.4,245.61 859.7,247.11 858,245.61 856.3,247.11 854.6,245.61 852.9,247.11 851.2,245.61 849.5,247.11 847.8,245.61 846.1,247.11 844.4,245.61 842.7,247.11 841,245.61 839.3,247.11 837.6,245.61 835.9,247.11 834.2,245.61 832.5,247.11 830.8,245.61 829.1,247.11 827.4,245.61 825.7,247.11 824,245.61 822.3,247.11" fill="#000"/>
<path d="M1130.76 199.67l2.5 0l-1.6 1.1l-2.5 0zM1130.76 202.67l2.5 0l-1.6 11l-2.5 0zM1129.16 215.57l2.5 0l1.6 11l-2.5 0zM1129.16 228.47l2.5 0l1.6 10.8l-2.5 0zM1133.76 183.17l2.5 0l-1.6 6.3l-2.5 0zM1133.76 191.37l2.5 0l-1.6 11l-2.5 0zM1133.76 204.27l2.5 0l-1.6 11l-2.5 0zM1132.16 217.17l2.5 0l1.6 11l-2.5 0zM1132.16 230.07l2.5 0l1.6 11l-2.5 0zM1132.16 242.97l2.5 0l1.6 11l-2.5 0zM1136.76 160.39l2.5 0l-1.6 11l-2.5 0zM1136.76 173.29l2.5 0l-1.6 11l-2.5 0zM1136.76 186.19l2.5 0l-1.6 11l-2.5 0zM1136.76 199.09l2.5 0l-1.6 11l-2.5 0zM1136.76 211.99l2.5 0l-1.6 11l-2.5 0zM1135.16 224.89l2.5 0l1.6 11l-2.5 0zM1135.16 237.79l2.5 0l1.6 11l-2.5 0zM1135.16 250.69l2.5 0l1.6 11l-2.5 0zM1135.16 263.59l2.5 0l1.6 11l-2.5 0zM1135.16 276.49l2.5 0l1.6 7.79l-2.5 0zM1139.76 136.28l2.5 0l-1.6 3.8l-2.5 0zM1139.76 141.98l2.5 0l-1.6 11l-2.5 0zM1139.76 154.88l2.5 0l-1.6 11l-2.5 0zM1139.76 167.78l2.5 0l-1.6 11l-2.5 0zM1139.76 180.68l2.5 0l-1.6 11l-2.5 0zM1139.76 193.58l2.5 0l-1.6 11l-2.5 0zM1139.76 206.48l2.5 0l-1.6 11l-2.5 0zM1138.16 219.38l2.5 0l1.6 11l-2.5 0zM1138.16 232.28l2.5 0l1.6 11l-2.5 0zM1138.16 245.18l2.5 0l1.6 11l-2.5 0zM1138.16 258.08l2.5 0l1.6 11l-2.5 0zM1138.16 270.98l2.5 0l1.6 11l-2.5 0zM1138.16 283.88l2.5 0l1.6 11l-2.5 0zM1138.16 296.78l2.5 0l1.6 7.27l-2.5 0zM1142.76 126.61l2.5 0l-1.6 9l-2.5 0zM1142.76 137.51l2.5 0l-1.6 11l-2.5 0zM1142.76 150.41l2.5 0l-1.6 11l-2.5 0zM1142.76 163.31l2.5 0l-1.6 11l-2.5 0zM1142.76 176.21l2.5 0l-1.6 11l-2.5 0zM1142.76 189.11l2.5 0l-1.6 11l-2.5 0zM1142.76 202.01l2.5 0l-1.6 11l-2.5 0zM1141.16 214.91l2.5 0l1.6 11l-2.5 0zM1141.16 227.81l2.5 0l1.6 11l-2.5 0zM1141.16 240.71l2.5 0l1.6 11l-2.5 0zM1141.16 253.61l2.5 0l1.6 11l-2.5 0zM1141.16 266.51l2.5 0l1.6 11l-2.5 0zM1141.16 279.41l2.5 0l1.6 11l-2.5 0zM1141.16 292.31l2.5 0l1.6 11l-2.5 0zM1141.16 305.21l2.5 0l1.6 9.7l-2.5 0zM1145.76 137.76l2.5 0l-1.6 1.3l-2.5 0zM1145.76 140.96l2.5 0l-1.6 11l-2.5 0zM1145.76 153.86l2.5 0l-1.6 11l-2.5 0zM1145.76 166.76l2.5 0l-1.6 11l-2.5 0zM1145.76 179.66l2.5 0l-1.6 11l-2.5 0zM1145.76 192.56l2.5 0l-1.6 11l-2.5 0zM1145.76 205.46l2.5 0l-1.6 11l-2.5 0zM1144.16 218.36l2.5 0l1.6 11l-2.5 0zM1144.16 231.26l2.5 0l1.6 11l-2.5 0zM1144.16 244.16l2.5 0l1.6 11l-2.5 0zM1144.16 257.06l2.5 0l1.6 11l-2.5 0zM1144.16 269.96l2.5 0l1.6 11l-2.5 0zM1144.16 282.86l2.5 0l1.6 11l-2.5 0zM1144.16 295.76l2.5 0l1.6 2.21l-2.5 0zM1148.76 149.02l2.5 0l-1.6 6.5l-2.5 0zM1148.76 157.42l2.5 0l-1.6 11l-2.5 0zM1148.76 170.32l2.5 0l-1.6 11l-2.5 0zM1148.76 183.22l2.5 0l-1.6 11l-2.5 0zM1148.76 196.12l2.5 0l-1.6 11l-2.5 0zM1148.76 209.02l2.5 0l-1.6 11l-2.5 0zM1147.16 221.92l2.5 0l1.6 11l-2.5 0zM1147.16 234.82l2.5 0l1.6 11l-2.5 0zM1147.16 247.72l2.5 0l1.6 11l-2.5 0zM1147.16 260.62l2.5 0l1.6 11l-2.5 0zM1147.16 273.52l2.5 0l1.6 11l-2.5 0zM1147.16 286.42l2.5 0l1.6 2.11l-2.5 0zM1151.76 165.36l2.5 0l-1.6 11l-2.5 0zM1151.76 178.26l2.5 0l-1.6 11l-2.5 0zM1151.76 191.16l2.5 0l-1.6 11l-2.5 0zM1151.76 204.06l2.5 0l-1.6 11l-2.5 0zM1150.16 216.96l2.5 0l1.6 11l-2.5 0zM1150.16 229.86l2.5 0l1.6 11l-2.5 0zM1150.16 242.76l2.5 0l1.6 11l-2.5 0zM1150.16 255.66l2.5 0l1.6 11l-2.5 0zM1154.76 175.74l2.5 0l-1.6 4l-2.5 0zM1154.76 181.64l2.5 0l-1.6 11l-2.5 0zM1154.76 194.54l2.5 0l-1.6 11l-2.5 0zM1154.76 207.44l2.5 0l-1.6 11l-2.5 0zM1153.16 220.34l2.5 0l1.6 11l-2.5 0zM1153.16 233.24l2.5 0l1.6 11l-2.5 0zM1153.16 246.14l2.5 0l1.6 11l-2.5 0zM1153.16 259.04l2.5 0l1.6 2.66l-2.5 0zM1157.76 183.15l2.5 0l-1.6 9.2l-2.5 0zM1157.76 194.25l2.5 0l-1.6 11l-2.5 0zM1157.76 207.15l2.5 0l-1.6 11l-2.5 0zM1156.16 220.05l2.5 0l1.6 11l-2.5 0zM1156.16 232.95l2.5 0l1.6 11l-2.5 0zM1156.16 245.85l2.5 0l1.6 8.22l-2.5 0zM1160.76 201.63l2.5 0l-1.6 1.5l-2.5 0zM1160.76 205.03l2.5 0l-1.6 11l-2.5 0zM1159.16 217.93l2.5 0l1.6 11l-2.5 0zM1159.16 230.83l2.5 0l1.6 6.41l-2.5 0zM1163.76 207.33l2.5 0l-1.6 6.7l-2.5 0zM1162.16 215.93l2.5 0l1.6 11l-2.5 0zM1162.16 228.83l2.5 0l1.6 2.26l-2.5 0zM1141.26 115.39l2.5 0l-1.6 11l-2.5 0zM1141.26 128.29l2.5 0l-1.6 2.14l-2.5 0zM1139.66 308.21l2.5 0l1.6 11l-2.5 0zM1139.66 321.11l2.5 0l1.6 2.86l-2.5 0z" fill="#000"/>
<path d="M1172.45 208.24l2.8 0l-0.9 10l-2.8 0zM1172.45 220.24l2.8 0l-0.9 10l-2.8 0zM1172.45 232.24l2.8 0l-0.9 0.43l-2.8 0zM1174.55 202.67l2.8 0l0.9 3.7l-2.8 0zM1174.55 208.37l2.8 0l0.9 10l-2.8 0zM1174.55 220.37l2.8 0l0.9 10l-2.8 0zM1174.55 232.37l2.8 0l0.9 3.6l-2.8 0zM1178.45 199.03l2.8 0l-0.9 8l-2.8 0zM1178.45 209.03l2.8 0l-0.9 10l-2.8 0zM1178.45 221.03l2.8 0l-0.9 10l-2.8 0zM1178.45 233.03l2.8 0l-0.9 6.23l-2.8 0zM1180.55 204.93l2.8 0l0.9 0.3l-2.8 0zM1180.55 207.23l2.8 0l0.9 10l-2.8 0zM1180.55 219.23l2.8 0l0.9 10l-2.8 0zM1180.55 231.23l2.8 0l0.9 1.69l-2.8 0zM1184.45 210.19l2.8 0l-0.9 4.6l-2.8 0zM1184.45 216.79l2.8 0l-0.9 10l-2.8 0z" fill="#000"/>
<rect x="822.3" y="7.4" width="539.7" height="423.5" fill="none" stroke="#000" stroke-width="1.85"/>
<text x="813" y="30.7" text-anchor="end" font-size="30.2" font-family='"DejaVu Serif", "Liberation Serif", serif' font-weight="normal" stroke="#000" stroke-width="1.35">2</text>
<text x="813" y="126.07" text-anchor="end" font-size="30.2" font-family='"DejaVu Serif", "Liberation Serif", serif' font-weight="normal" stroke="#000" stroke-width="1.35">1</text>
<text x="813" y="231.95" text-anchor="end" font-size="30.2" font-family='"DejaVu Serif", "Liberation Serif", serif' font-weight="normal" stroke="#000" stroke-width="1.35">0</text>
<text x="813" y="337.82" text-anchor="end" font-size="30.2" font-family='"DejaVu Serif", "Liberation Serif", serif' font-weight="normal" stroke="#000" stroke-width="1.35">1</text>
<text x="763.8" y="336.82" font-size="30.2" font-family='"DejaVu Serif", "Liberation Serif", serif' font-weight="normal" stroke="#000" stroke-width="0.2" textLength="27.8" lengthAdjust="spacingAndGlyphs">−</text>
<text x="813" y="429.3" text-anchor="end" font-size="30.2" font-family='"DejaVu Serif", "Liberation Serif", serif' font-weight="normal" stroke="#000" stroke-width="1.35">2</text>
<text x="764.9" y="429.6" font-size="30.2" font-family='"DejaVu Serif", "Liberation Serif", serif' font-weight="normal" stroke="#000" stroke-width="1.9" textLength="25.6" lengthAdjust="spacingAndGlyphs">−</text>
<text x="912.45" y="478.3" text-anchor="middle" font-size="31.9" textLength="63.5" lengthAdjust="spacingAndGlyphs" font-family='"DejaVu Serif", "Liberation Serif", serif' font-weight="normal" stroke="#000" stroke-width="1.35">100</text>
<text x="1002.4" y="478.3" text-anchor="middle" font-size="31.9" textLength="63.5" lengthAdjust="spacingAndGlyphs" font-family='"DejaVu Serif", "Liberation Serif", serif' font-weight="normal" stroke="#000" stroke-width="1.35">200</text>
<text x="1092.35" y="478.3" text-anchor="middle" font-size="31.9" textLength="63.5" lengthAdjust="spacingAndGlyphs" font-family='"DejaVu Serif", "Liberation Serif", serif' font-weight="normal" stroke="#000" stroke-width="1.35">300</text>
<text x="1182.3" y="478.3" text-anchor="middle" font-size="31.9" textLength="63.5" lengthAdjust="spacingAndGlyphs" font-family='"DejaVu Serif", "Liberation Serif", serif' font-weight="normal" stroke="#000" stroke-width="1.35">400</text>
<text x="1272.25" y="478.3" text-anchor="middle" font-size="31.9" textLength="63.5" lengthAdjust="spacingAndGlyphs" font-family='"DejaVu Serif", "Liberation Serif", serif' font-weight="normal" stroke="#000" stroke-width="1.35">500</text>
<text x="1362.2" y="478.3" text-anchor="middle" font-size="31.9" textLength="63.5" lengthAdjust="spacingAndGlyphs" font-family='"DejaVu Serif", "Liberation Serif", serif' font-weight="normal" stroke="#000" stroke-width="1.35">600</text>
<text x="1093.15" y="519.5" text-anchor="middle" font-size="28.3" textLength="19.3" lengthAdjust="spacingAndGlyphs" font-family='"DejaVu Serif", "Liberation Serif", serif' font-weight="normal" stroke="#000" stroke-width="1.35">x</text>
<text transform="translate(735.5 219.9) rotate(-90)" x="0" y="0" text-anchor="middle" font-family='"DejaVu Serif Condensed", "DejaVu Serif", "Liberation Serif", serif' font-size="33.6" word-spacing="6" textLength="202.5" lengthAdjust="spacingAndGlyphs">WAVE FIELD</text>
<text x="908.3" y="76" font-size="43" font-weight="normal" textLength="103.5" lengthAdjust="spacingAndGlyphs">t=825</text>
<text x="1322.5" y="40.9" font-size="31" font-family='"Liberation Sans", "DejaVu Sans", sans-serif' textLength="29.5" lengthAdjust="spacingAndGlyphs">b)</text>
</g>
<g>
<path d="M128.31 585.7v5.2M137.21 585.7v5.2M146.12 585.7v5.2M155.03 585.7v5.2M163.93 585.7v5.2M172.84 585.7v5.2M181.75 585.7v5.2M190.65 585.7v5.2M199.56 585.7v5.2M208.47 585.7v9.3M217.37 585.7v5.2M226.28 585.7v5.2M235.19 585.7v5.2M244.09 585.7v5.2M253 585.7v5.2M261.91 585.7v5.2M270.81 585.7v5.2M279.72 585.7v5.2M288.63 585.7v5.2M297.53 585.7v9.3M306.44 585.7v5.2M315.35 585.7v5.2M324.25 585.7v5.2M333.16 585.7v5.2M342.07 585.7v5.2M350.97 585.7v5.2M359.88 585.7v5.2M368.79 585.7v5.2M377.69 585.7v5.2M386.6 585.7v9.3M395.51 585.7v5.2M404.41 585.7v5.2M413.32 585.7v5.2M422.23 585.7v5.2M431.13 585.7v5.2M440.04 585.7v5.2M448.95 585.7v5.2M457.85 585.7v5.2M466.76 585.7v5.2M475.67 585.7v9.3M484.57 585.7v5.2M493.48 585.7v5.2M502.39 585.7v5.2M511.29 585.7v5.2M520.2 585.7v5.2M529.11 585.7v5.2M538.01 585.7v5.2M546.92 585.7v5.2M555.83 585.7v5.2M564.73 585.7v9.3M573.64 585.7v5.2M582.55 585.7v5.2M591.45 585.7v5.2M600.36 585.7v5.2M609.27 585.7v5.2M618.17 585.7v5.2M627.08 585.7v5.2M635.99 585.7v5.2M644.89 585.7v5.2M128.31 1006.1v-5.2M137.21 1006.1v-5.2M146.12 1006.1v-5.2M155.03 1006.1v-5.2M163.93 1006.1v-5.2M172.84 1006.1v-5.2M181.75 1006.1v-5.2M190.65 1006.1v-5.2M199.56 1006.1v-5.2M208.47 1006.1v-9.3M217.37 1006.1v-5.2M226.28 1006.1v-5.2M235.19 1006.1v-5.2M244.09 1006.1v-5.2M253 1006.1v-5.2M261.91 1006.1v-5.2M270.81 1006.1v-5.2M279.72 1006.1v-5.2M288.63 1006.1v-5.2M297.53 1006.1v-9.3M306.44 1006.1v-5.2M315.35 1006.1v-5.2M324.25 1006.1v-5.2M333.16 1006.1v-5.2M342.07 1006.1v-5.2M350.97 1006.1v-5.2M359.88 1006.1v-5.2M368.79 1006.1v-5.2M377.69 1006.1v-5.2M386.6 1006.1v-9.3M395.51 1006.1v-5.2M404.41 1006.1v-5.2M413.32 1006.1v-5.2M422.23 1006.1v-5.2M431.13 1006.1v-5.2M440.04 1006.1v-5.2M448.95 1006.1v-5.2M457.85 1006.1v-5.2M466.76 1006.1v-5.2M475.67 1006.1v-9.3M484.57 1006.1v-5.2M493.48 1006.1v-5.2M502.39 1006.1v-5.2M511.29 1006.1v-5.2M520.2 1006.1v-5.2M529.11 1006.1v-5.2M538.01 1006.1v-5.2M546.92 1006.1v-5.2M555.83 1006.1v-5.2M564.73 1006.1v-9.3M573.64 1006.1v-5.2M582.55 1006.1v-5.2M591.45 1006.1v-5.2M600.36 1006.1v-5.2M609.27 1006.1v-5.2M618.17 1006.1v-5.2M627.08 1006.1v-5.2M635.99 1006.1v-5.2M644.89 1006.1v-5.2" stroke="#000" stroke-width="1.55" fill="none"/>
<path d="M119.4 995.59h7.2M119.4 985.08h7.2M119.4 974.57h7.2M119.4 964.06h7.2M119.4 953.55h7.2M119.4 943.04h7.2M119.4 932.53h7.2M119.4 922.02h7.2M119.4 911.51h7.2M119.4 901h13.4M119.4 890.49h7.2M119.4 879.98h7.2M119.4 869.47h7.2M119.4 858.96h7.2M119.4 848.45h7.2M119.4 837.94h7.2M119.4 827.43h7.2M119.4 816.92h7.2M119.4 806.41h7.2M119.4 795.9h13.4M119.4 785.39h7.2M119.4 774.88h7.2M119.4 764.37h7.2M119.4 753.86h7.2M119.4 743.35h7.2M119.4 732.84h7.2M119.4 722.33h7.2M119.4 711.82h7.2M119.4 701.31h7.2M119.4 690.8h13.4M119.4 680.29h7.2M119.4 669.78h7.2M119.4 659.27h7.2M119.4 648.76h7.2M119.4 638.25h7.2M119.4 627.74h7.2M119.4 617.23h7.2M119.4 606.72h7.2M119.4 596.21h7.2" stroke="#000" stroke-width="1.7" fill="none"/>
<path d="M653.8 995.59h-5.4M653.8 985.08h-5.4M653.8 974.57h-5.4M653.8 964.06h-5.4M653.8 953.55h-5.4M653.8 943.04h-5.4M653.8 932.53h-5.4M653.8 922.02h-5.4M653.8 911.51h-5.4M653.8 901h-11.5M653.8 890.49h-5.4M653.8 879.98h-5.4M653.8 869.47h-5.4M653.8 858.96h-5.4M653.8 848.45h-5.4M653.8 837.94h-5.4M653.8 827.43h-5.4M653.8 816.92h-5.4M653.8 806.41h-5.4M653.8 795.9h-11.5M653.8 785.39h-5.4M653.8 774.88h-5.4M653.8 764.37h-5.4M653.8 753.86h-5.4M653.8 743.35h-5.4M653.8 732.84h-5.4M653.8 722.33h-5.4M653.8 711.82h-5.4M653.8 701.31h-5.4M653.8 690.8h-11.5M653.8 680.29h-5.4M653.8 669.78h-5.4M653.8 659.27h-5.4M653.8 648.76h-5.4M653.8 638.25h-5.4M653.8 627.74h-5.4M653.8 617.23h-5.4M653.8 606.72h-5.4M653.8 596.21h-5.4" stroke="#2a2a2a" stroke-width="1.25" fill="none"/>
<polygon points="119.4,768.03 121.1,769.53 122.8,768.03 124.5,769.53 126.2,768.03 127.9,769.53 129.6,768.03 131.3,769.53 133,768.03 134.7,769.53 136.4,768.03 138.1,769.53 139.8,768.03 141.5,769.53 143.2,768.03 144.9,769.53 146.6,768.03 148.3,769.53 150,768.03 151.7,769.53 153.4,768.03 155.1,769.53 156.8,768.03 158.5,769.53 160.2,768.03 161.9,769.53 163.6,768.03 165.3,769.53 167,768.03 168.7,769.53 170.4,768.03 172.1,769.53 173.8,768.03 175.5,769.53 177.2,768.03 178.9,769.53 180.6,768.03 182.3,769.53 184,768.03 185.7,769.53 187.4,768.03 189.1,769.53 190.8,768.03 192.5,769.53 194.2,768.03 195.9,769.53 197.6,768.03 199.3,769.53 201,768.03 202.7,769.53 204.4,768.03 206.1,769.53 207.8,768.03 209.5,769.53 211.2,768.03 212.9,769.53 214.6,768.03 216.3,769.53 218,768.03 219.7,769.53 221.4,768.03 223.1,769.53 224.8,768.03 226.5,769.53 228.2,768.03 229.9,769.53 231.6,768.03 233.3,769.53 235,768.03 236.7,769.53 238.4,768.03 240.1,769.53 241.8,768.03 243.5,769.53 245.2,768.03 246.9,769.53 248.6,768.03 250.3,769.53 252,768.03 253.7,769.53 255.4,768.03 257.1,769.53 258.8,768.03 260.5,769.53 262.2,768.03 263.9,769.53 265.6,768.03 267.3,769.53 269,768.03 270.7,769.53 272.4,768.03 274.1,769.53 275.8,768.03 277.5,769.53 279.2,768.03 280.9,769.53 282.6,768.03 284.3,769.53 286,768.03 287.7,769.53 289.4,768.03 291.1,769.53 292.8,768.03 294.5,769.53 296.2,771.51 297.9,777.42 299.6,778.17 301.3,780.94 303,780.72 304.7,783.5 306.4,783.27 308.1,786.05 309.8,784.57 311.5,785.99 313.2,784.41 314.9,785.84 316.6,784.26 318.3,785.68 320,784.06 321.7,785.05 323.4,783.05 325.1,784.05 326.8,782.05 328.5,783.05 330.2,781.6 331.9,783.24 333.6,781.87 335.3,783.51 337,782.14 338.7,783.77 340.4,782.41 342.1,784.05 343.8,783.05 345.5,785.05 347.2,784.05 348.9,786.05 350.6,785.06 352.3,787.06 354,786.15 355.7,788.28 357.4,787.4 359.1,789.53 360.8,788.21 362.5,789.51 364.2,787.81 365.9,789.11 367.6,787.41 369.3,788.92 371,787.92 372.7,789.92 374.4,788.92 376.1,790.92 377.8,789.9 379.5,791.5 381.2,790.1 382.9,791.7 384.6,790.3 386.3,791.9 388,790.39 389.7,791.85 391.4,790.31 393.1,791.77 394.8,790.23 396.5,791.69 398.2,790.15 399.9,791.61 401.6,790.07 403.3,791.53 405,789.99 406.7,791.45 408.4,789.91 410.1,791.37 411.8,789.83 413.5,791.29 415.2,789.75 416.9,791.21 418.6,789.67 420.3,791.13 422,789.59 423.7,791.04 425.4,789.5 427.1,790.96 428.8,789.42 430.5,790.88 432.2,789.34 433.9,790.8 435.6,789.26 437.3,790.72 439,789.18 440.7,790.64 442.4,789.1 444.1,790.56 445.8,789.02 447.5,790.48 449.2,788.94 450.9,790.4 452.6,788.86 454.3,790.32 456,788.78 457.7,790.24 459.4,788.7 461.1,790.16 462.8,788.62 464.5,790.08 466.2,788.54 467.9,790 469.6,788.46 471.3,789.92 473,788.38 474.7,789.84 476.4,788.29 478.1,789.73 479.8,788.17 481.5,789.61 483.2,788.05 484.9,789.49 486.6,787.93 488.3,789.37 490,787.81 491.7,789.25 493.4,787.69 495.1,789.13 496.8,787.57 498.5,789.01 500.2,787.45 501.9,788.89 503.6,787.33 505.3,788.77 507,787.21 508.7,788.65 510.4,787.09 512.1,788.53 513.8,786.97 515.5,788.41 517.2,786.85 518.9,788.29 520.6,786.73 522.3,788.17 524,786.61 525.7,788.05 527.4,786.49 529.1,787.93 530.8,786.37 532.5,787.81 534.2,786.25 535.9,787.69 537.6,786.13 539.3,787.57 541,786.01 542.7,787.45 544.4,785.89 546.1,787.33 547.8,785.76 549.5,787.2 551.2,785.64 552.9,787.08 554.6,785.52 556.3,786.96 558,785.4 559.7,786.84 561.4,785.28 563.1,786.72 564.8,785.16 566.5,786.64 568.2,785.11 569.9,786.59 571.6,785.06 573.3,786.53 575,785.01 576.7,786.48 578.4,784.96 580.1,786.43 581.8,784.9 583.5,786.38 585.2,784.85 586.9,786.33 588.6,784.8 590.3,786.27 592,784.75 593.7,786.22 595.4,784.7 597.1,786.17 598.8,784.64 600.5,786.12 602.2,784.59 603.9,786.06 605.6,784.54 607.3,786.01 609,784.49 610.7,785.96 612.4,784.43 614.1,785.91 615.8,784.38 617.5,785.86 619.2,784.33 620.9,785.8 622.6,784.28 624.3,785.75 626,784.23 627.7,785.7 629.4,784.17 631.1,785.65 632.8,784.12 634.5,785.6 636.2,784.07 637.9,785.54 639.6,784.02 641.3,785.49 643,783.96 644.7,785.44 646.4,783.91 648.1,785.39 649.8,783.86 651.5,785.33 653.2,783.81 653.8,784.55 653.8,807.25 653.2,807.99 651.5,806.47 649.8,807.94 648.1,806.41 646.4,807.89 644.7,806.36 643,807.84 641.3,806.31 639.6,807.78 637.9,806.26 636.2,807.73 634.5,806.2 632.8,807.68 631.1,806.15 629.4,807.63 627.7,806.1 626,807.57 624.3,806.05 622.6,807.52 620.9,806 619.2,807.47 617.5,805.94 615.8,807.42 614.1,805.89 612.4,807.37 610.7,805.84 609,807.31 607.3,805.79 605.6,807.26 603.9,805.74 602.2,807.21 600.5,805.68 598.8,807.16 597.1,805.63 595.4,807.1 593.7,805.58 592,807.05 590.3,805.53 588.6,807 586.9,805.47 585.2,806.95 583.5,805.42 581.8,806.9 580.1,805.37 578.4,806.84 576.7,805.32 575,806.79 573.3,805.27 571.6,806.74 569.9,805.21 568.2,806.69 566.5,805.16 564.8,806.64 563.1,805.08 561.4,806.52 559.7,804.96 558,806.4 556.3,804.84 554.6,806.28 552.9,804.72 551.2,806.16 549.5,804.6 547.8,806.04 546.1,804.47 544.4,805.91 542.7,804.35 541,805.79 539.3,804.23 537.6,805.67 535.9,804.11 534.2,805.55 532.5,803.99 530.8,805.43 529.1,803.87 527.4,805.31 525.7,803.75 524,805.19 522.3,803.63 520.6,805.07 518.9,803.51 517.2,804.95 515.5,803.39 513.8,804.83 512.1,803.27 510.4,804.71 508.7,803.15 507,804.59 505.3,803.03 503.6,804.47 501.9,802.91 500.2,804.35 498.5,802.79 496.8,804.23 495.1,802.67 493.4,804.11 491.7,802.55 490,803.99 488.3,802.43 486.6,803.87 484.9,802.31 483.2,803.75 481.5,802.19 479.8,803.63 478.1,802.07 476.4,803.51 474.7,801.96 473,803.42 471.3,801.88 469.6,803.34 467.9,801.8 466.2,803.26 464.5,801.72 462.8,803.18 461.1,801.64 459.4,803.1 457.7,801.56 456,803.02 454.3,801.48 452.6,802.94 450.9,801.4 449.2,802.86 447.5,801.32 445.8,802.78 444.1,801.24 442.4,802.7 440.7,801.16 439,802.62 437.3,801.08 435.6,802.54 433.9,801 432.2,802.46 430.5,800.92 428.8,802.38 427.1,800.84 425.4,802.3 423.7,800.76 422,802.21 420.3,800.67 418.6,802.13 416.9,800.59 415.2,802.05 413.5,800.51 411.8,801.97 410.1,800.43 408.4,801.89 406.7,800.35 405,801.81 403.3,800.27 401.6,801.73 399.9,800.19 398.2,801.65 396.5,800.11 394.8,801.57 393.1,800.03 391.4,801.49 389.7,799.95 388,801.41 386.3,799.9 384.6,801.5 382.9,800.1 381.2,801.7 379.5,800.3 377.8,801.9 376.1,800.88 374.4,802.88 372.7,801.88 371,803.88 369.3,802.88 367.6,804.39 365.9,802.69 364.2,803.99 362.5,802.29 360.8,803.59 359.1,802.27 357.4,804.4 355.7,803.52 354,805.65 352.3,804.74 350.6,806.74 348.9,805.75 347.2,807.75 345.5,806.75 343.8,808.75 342.1,807.75 340.4,809.39 338.7,808.03 337,809.66 335.3,808.29 333.6,809.93 331.9,808.56 330.2,810.2 328.5,808.75 326.8,809.75 325.1,807.75 323.4,808.75 321.7,806.75 320,807.74 318.3,806.12 316.6,807.54 314.9,805.96 313.2,807.39 311.5,805.81 309.8,807.23 308.1,805.75 306.4,808.53 304.7,808.3 303,811.08 301.3,810.86 299.6,813.63 297.9,814.38 296.2,820.29 294.5,822.27 292.8,823.77 291.1,822.27 289.4,823.77 287.7,822.27 286,823.77 284.3,822.27 282.6,823.77 280.9,822.27 279.2,823.77 277.5,822.27 275.8,823.77 274.1,822.27 272.4,823.77 270.7,822.27 269,823.77 267.3,822.27 265.6,823.77 263.9,822.27 262.2,823.77 260.5,822.27 258.8,823.77 257.1,822.27 255.4,823.77 253.7,822.27 252,823.77 250.3,822.27 248.6,823.77 246.9,822.27 245.2,823.77 243.5,822.27 241.8,823.77 240.1,822.27 238.4,823.77 236.7,822.27 235,823.77 233.3,822.27 231.6,823.77 229.9,822.27 228.2,823.77 226.5,822.27 224.8,823.77 223.1,822.27 221.4,823.77 219.7,822.27 218,823.77 216.3,822.27 214.6,823.77 212.9,822.27 211.2,823.77 209.5,822.27 207.8,823.77 206.1,822.27 204.4,823.77 202.7,822.27 201,823.77 199.3,822.27 197.6,823.77 195.9,822.27 194.2,823.77 192.5,822.27 190.8,823.77 189.1,822.27 187.4,823.77 185.7,822.27 184,823.77 182.3,822.27 180.6,823.77 178.9,822.27 177.2,823.77 175.5,822.27 173.8,823.77 172.1,822.27 170.4,823.77 168.7,822.27 167,823.77 165.3,822.27 163.6,823.77 161.9,822.27 160.2,823.77 158.5,822.27 156.8,823.77 155.1,822.27 153.4,823.77 151.7,822.27 150,823.77 148.3,822.27 146.6,823.77 144.9,822.27 143.2,823.77 141.5,822.27 139.8,823.77 138.1,822.27 136.4,823.77 134.7,822.27 133,823.77 131.3,822.27 129.6,823.77 127.9,822.27 126.2,823.77 124.5,822.27 122.8,823.77 121.1,822.27 119.4,823.77" fill="#000"/>
<path d="M291.79 776.14l2.3 0l0.9 4.8l-2.3 0zM291.79 782.84l2.3 0l0.9 12l-2.3 0zM291.79 796.74l2.3 0l0.9 12l-2.3 0zM291.79 810.64l2.3 0l0.9 4.81l-2.3 0zM295.49 762.94l2.3 0l-0.9 11l-2.3 0zM295.49 775.84l2.3 0l-0.9 12l-2.3 0zM295.49 789.74l2.3 0l-0.9 12l-2.3 0zM295.49 803.64l2.3 0l-0.9 12l-2.3 0zM295.49 817.54l2.3 0l-0.9 8.36l-2.3 0zM297.39 719l2.3 0l0.9 3.3l-2.3 0zM297.39 724.2l2.3 0l0.9 12l-2.3 0zM297.39 738.1l2.3 0l0.9 12l-2.3 0zM297.39 752l2.3 0l0.9 12l-2.3 0zM297.39 765.9l2.3 0l0.9 12l-2.3 0zM297.39 779.8l2.3 0l0.9 12l-2.3 0zM297.39 793.7l2.3 0l0.9 12l-2.3 0zM297.39 807.6l2.3 0l0.9 12l-2.3 0zM297.39 821.5l2.3 0l0.9 12l-2.3 0zM297.39 835.4l2.3 0l0.9 12l-2.3 0zM297.39 849.3l2.3 0l0.9 12l-2.3 0zM297.39 863.2l2.3 0l0.9 8.07l-2.3 0zM301.09 692.12l2.3 0l-0.9 9.5l-2.3 0zM301.09 703.52l2.3 0l-0.9 12l-2.3 0zM301.09 717.42l2.3 0l-0.9 12l-2.3 0zM301.09 731.32l2.3 0l-0.9 12l-2.3 0zM301.09 745.22l2.3 0l-0.9 12l-2.3 0zM301.09 759.12l2.3 0l-0.9 12l-2.3 0zM301.09 773.02l2.3 0l-0.9 12l-2.3 0zM301.09 786.92l2.3 0l-0.9 12l-2.3 0zM301.09 800.82l2.3 0l-0.9 12l-2.3 0zM301.09 814.72l2.3 0l-0.9 12l-2.3 0zM301.09 828.62l2.3 0l-0.9 12l-2.3 0zM301.09 842.52l2.3 0l-0.9 12l-2.3 0zM301.09 856.42l2.3 0l-0.9 12l-2.3 0zM301.09 870.32l2.3 0l-0.9 12l-2.3 0zM301.09 884.22l2.3 0l-0.9 12l-2.3 0zM302.99 667.01l2.3 0l0.9 1.8l-2.3 0zM302.99 670.71l2.3 0l0.9 12l-2.3 0zM302.99 684.61l2.3 0l0.9 12l-2.3 0zM302.99 698.51l2.3 0l0.9 12l-2.3 0zM302.99 712.41l2.3 0l0.9 12l-2.3 0zM302.99 726.31l2.3 0l0.9 12l-2.3 0zM302.99 740.21l2.3 0l0.9 12l-2.3 0zM302.99 754.11l2.3 0l0.9 12l-2.3 0zM302.99 768.01l2.3 0l0.9 12l-2.3 0zM302.99 781.91l2.3 0l0.9 12l-2.3 0zM302.99 795.81l2.3 0l0.9 12l-2.3 0zM302.99 809.71l2.3 0l0.9 12l-2.3 0zM302.99 823.61l2.3 0l0.9 12l-2.3 0zM302.99 837.51l2.3 0l0.9 12l-2.3 0zM302.99 851.41l2.3 0l0.9 12l-2.3 0zM302.99 865.31l2.3 0l0.9 12l-2.3 0zM302.99 879.21l2.3 0l0.9 12l-2.3 0zM302.99 893.11l2.3 0l0.9 12l-2.3 0zM302.99 907.01l2.3 0l0.9 12l-2.3 0zM302.99 920.91l2.3 0l0.9 8.08l-2.3 0zM306.69 665.61l2.3 0l-0.9 8l-2.3 0zM306.69 675.51l2.3 0l-0.9 12l-2.3 0zM306.69 689.41l2.3 0l-0.9 12l-2.3 0zM306.69 703.31l2.3 0l-0.9 12l-2.3 0zM306.69 717.21l2.3 0l-0.9 12l-2.3 0zM306.69 731.11l2.3 0l-0.9 12l-2.3 0zM306.69 745.01l2.3 0l-0.9 12l-2.3 0zM306.69 758.91l2.3 0l-0.9 12l-2.3 0zM306.69 772.81l2.3 0l-0.9 12l-2.3 0zM306.69 786.71l2.3 0l-0.9 12l-2.3 0zM306.69 800.61l2.3 0l-0.9 12l-2.3 0zM306.69 814.51l2.3 0l-0.9 12l-2.3 0zM306.69 828.41l2.3 0l-0.9 12l-2.3 0zM306.69 842.31l2.3 0l-0.9 12l-2.3 0zM306.69 856.21l2.3 0l-0.9 12l-2.3 0zM306.69 870.11l2.3 0l-0.9 12l-2.3 0zM306.69 884.01l2.3 0l-0.9 12l-2.3 0zM306.69 897.91l2.3 0l-0.9 12l-2.3 0zM306.69 911.81l2.3 0l-0.9 12l-2.3 0zM306.69 925.71l2.3 0l-0.9 1.88l-2.3 0zM308.59 703.66l2.3 0l0.9 12l-2.3 0zM308.59 717.56l2.3 0l0.9 12l-2.3 0zM308.59 731.46l2.3 0l0.9 12l-2.3 0zM308.59 745.36l2.3 0l0.9 12l-2.3 0zM308.59 759.26l2.3 0l0.9 12l-2.3 0zM308.59 773.16l2.3 0l0.9 12l-2.3 0zM308.59 787.06l2.3 0l0.9 12l-2.3 0zM308.59 800.96l2.3 0l0.9 12l-2.3 0zM308.59 814.86l2.3 0l0.9 12l-2.3 0zM308.59 828.76l2.3 0l0.9 12l-2.3 0zM308.59 842.66l2.3 0l0.9 12l-2.3 0zM308.59 856.56l2.3 0l0.9 12l-2.3 0zM308.59 870.46l2.3 0l0.9 12l-2.3 0zM308.59 884.36l2.3 0l0.9 12l-2.3 0zM308.59 898.26l2.3 0l0.9 1.41l-2.3 0zM312.29 720.53l2.3 0l-0.9 6.5l-2.3 0zM312.29 728.93l2.3 0l-0.9 12l-2.3 0zM312.29 742.83l2.3 0l-0.9 12l-2.3 0zM312.29 756.73l2.3 0l-0.9 12l-2.3 0zM312.29 770.63l2.3 0l-0.9 12l-2.3 0zM312.29 784.53l2.3 0l-0.9 12l-2.3 0zM312.29 798.43l2.3 0l-0.9 12l-2.3 0zM312.29 812.33l2.3 0l-0.9 12l-2.3 0zM312.29 826.23l2.3 0l-0.9 12l-2.3 0zM312.29 840.13l2.3 0l-0.9 12l-2.3 0zM312.29 854.03l2.3 0l-0.9 12l-2.3 0zM312.29 867.93l2.3 0l-0.9 4.87l-2.3 0zM314.19 764.63l2.3 0l0.9 12l-2.3 0zM314.19 778.53l2.3 0l0.9 12l-2.3 0zM314.19 792.43l2.3 0l0.9 12l-2.3 0zM314.19 806.33l2.3 0l0.9 12l-2.3 0zM314.19 820.23l2.3 0l0.9 8.64l-2.3 0zM317.89 785.92l2.3 0l-0.9 5l-2.3 0zM317.89 792.82l2.3 0l-0.9 12l-2.3 0zM305.29 645.61l2.3 0l-0.9 12l-2.3 0zM305.29 659.51l2.3 0l-0.9 6.1l-2.3 0zM305.29 926.19l2.3 0l-0.9 12l-2.3 0zM305.29 940.09l2.3 0l-0.9 6.1l-2.3 0z" fill="#000"/>
<path d="M328.11 781.89l2.5 0l-0.9 1.7l-2.5 0zM328.11 785.29l2.5 0l-0.9 10l-2.5 0zM328.11 796.99l2.5 0l-0.9 10l-2.5 0zM330.21 774.79l2.5 0l0.9 5.7l-2.5 0zM330.21 782.19l2.5 0l0.9 10l-2.5 0zM330.21 793.89l2.5 0l0.9 10l-2.5 0zM330.21 805.59l2.5 0l0.9 10l-2.5 0zM334.11 765.35l2.5 0l-0.9 9.7l-2.5 0zM334.11 776.75l2.5 0l-0.9 10l-2.5 0zM334.11 788.45l2.5 0l-0.9 10l-2.5 0zM334.11 800.15l2.5 0l-0.9 10l-2.5 0zM334.11 811.85l2.5 0l-0.9 10l-2.5 0zM334.11 823.55l2.5 0l-0.9 1.99l-2.5 0zM336.21 760.06l2.5 0l0.9 2l-2.5 0zM336.21 763.76l2.5 0l0.9 10l-2.5 0zM336.21 775.46l2.5 0l0.9 10l-2.5 0zM336.21 787.16l2.5 0l0.9 10l-2.5 0zM336.21 798.86l2.5 0l0.9 10l-2.5 0zM336.21 810.56l2.5 0l0.9 10l-2.5 0zM336.21 822.26l2.5 0l0.9 10l-2.5 0zM340.11 751.23l2.5 0l-0.9 6l-2.5 0zM340.11 758.93l2.5 0l-0.9 10l-2.5 0zM340.11 770.63l2.5 0l-0.9 10l-2.5 0zM340.11 782.33l2.5 0l-0.9 10l-2.5 0zM340.11 794.03l2.5 0l-0.9 10l-2.5 0zM340.11 805.73l2.5 0l-0.9 10l-2.5 0zM340.11 817.43l2.5 0l-0.9 10l-2.5 0zM340.11 829.13l2.5 0l-0.9 10l-2.5 0zM342.21 760.57l2.5 0l0.9 10l-2.5 0zM342.21 772.27l2.5 0l0.9 10l-2.5 0zM342.21 783.97l2.5 0l0.9 10l-2.5 0zM342.21 795.67l2.5 0l0.9 10l-2.5 0zM342.21 807.37l2.5 0l0.9 10l-2.5 0zM342.21 819.07l2.5 0l0.9 10l-2.5 0zM342.21 830.77l2.5 0l0.9 3.95l-2.5 0zM346.11 765l2.5 0l-0.9 2.3l-2.5 0zM346.11 769l2.5 0l-0.9 10l-2.5 0zM346.11 780.7l2.5 0l-0.9 10l-2.5 0zM346.11 792.4l2.5 0l-0.9 10l-2.5 0zM346.11 804.1l2.5 0l-0.9 10l-2.5 0zM346.11 815.8l2.5 0l-0.9 10l-2.5 0zM348.21 773.9l2.5 0l0.9 6.3l-2.5 0zM348.21 781.9l2.5 0l0.9 10l-2.5 0zM348.21 793.6l2.5 0l0.9 10l-2.5 0zM348.21 805.3l2.5 0l0.9 10l-2.5 0zM348.21 817l2.5 0l0.9 1.59l-2.5 0zM352.11 783.88l2.5 0l-0.9 10l-2.5 0zM352.11 795.58l2.5 0l-0.9 10l-2.5 0zM352.11 807.28l2.5 0l-0.9 0.56l-2.5 0z" fill="#000"/>
<rect x="119.4" y="585.7" width="534.4" height="420.4" fill="none" stroke="#000" stroke-width="1.85"/>
<text x="110.1" y="609" text-anchor="end" font-size="29.45" font-family='"DejaVu Serif", "Liberation Serif", serif' font-weight="normal" stroke="#000" stroke-width="1.35">2</text>
<text x="110.1" y="703.6" text-anchor="end" font-size="29.45" font-family='"DejaVu Serif", "Liberation Serif", serif' font-weight="normal" stroke="#000" stroke-width="1.35">1</text>
<text x="110.1" y="808.7" text-anchor="end" font-size="29.45" font-family='"DejaVu Serif", "Liberation Serif", serif' font-weight="normal" stroke="#000" stroke-width="1.35">0</text>
<text x="110.1" y="913.8" text-anchor="end" font-size="29.45" font-family='"DejaVu Serif", "Liberation Serif", serif' font-weight="normal" stroke="#000" stroke-width="1.35">1</text>
<text x="60.9" y="912.8" font-size="29.45" font-family='"DejaVu Serif", "Liberation Serif", serif' font-weight="normal" stroke="#000" stroke-width="0.2" textLength="27.8" lengthAdjust="spacingAndGlyphs">−</text>
<text x="110.1" y="1004.5" text-anchor="end" font-size="29.45" font-family='"DejaVu Serif", "Liberation Serif", serif' font-weight="normal" stroke="#000" stroke-width="1.35">2</text>
<text x="62" y="1004.8" font-size="29.45" font-family='"DejaVu Serif", "Liberation Serif", serif' font-weight="normal" stroke="#000" stroke-width="1.9" textLength="25.6" lengthAdjust="spacingAndGlyphs">−</text>
<text x="208.67" y="1052.4" text-anchor="middle" font-size="31.1" textLength="61.91" lengthAdjust="spacingAndGlyphs" font-family='"DejaVu Serif", "Liberation Serif", serif' font-weight="normal" stroke="#000" stroke-width="1.35">100</text>
<text x="297.73" y="1052.4" text-anchor="middle" font-size="31.1" textLength="61.91" lengthAdjust="spacingAndGlyphs" font-family='"DejaVu Serif", "Liberation Serif", serif' font-weight="normal" stroke="#000" stroke-width="1.35">200</text>
<text x="386.8" y="1052.4" text-anchor="middle" font-size="31.1" textLength="61.91" lengthAdjust="spacingAndGlyphs" font-family='"DejaVu Serif", "Liberation Serif", serif' font-weight="normal" stroke="#000" stroke-width="1.35">300</text>
<text x="475.87" y="1052.4" text-anchor="middle" font-size="31.1" textLength="61.91" lengthAdjust="spacingAndGlyphs" font-family='"DejaVu Serif", "Liberation Serif", serif' font-weight="normal" stroke="#000" stroke-width="1.35">400</text>
<text x="564.93" y="1052.4" text-anchor="middle" font-size="31.1" textLength="61.91" lengthAdjust="spacingAndGlyphs" font-family='"DejaVu Serif", "Liberation Serif", serif' font-weight="normal" stroke="#000" stroke-width="1.35">500</text>
<text x="654" y="1052.4" text-anchor="middle" font-size="31.1" textLength="61.91" lengthAdjust="spacingAndGlyphs" font-family='"DejaVu Serif", "Liberation Serif", serif' font-weight="normal" stroke="#000" stroke-width="1.35">600</text>
<text x="387.6" y="1093.7" text-anchor="middle" font-size="27.59" textLength="18.82" lengthAdjust="spacingAndGlyphs" font-family='"DejaVu Serif", "Liberation Serif", serif' font-weight="normal" stroke="#000" stroke-width="1.35">x</text>
<text transform="translate(33 795.6) rotate(-90)" x="0" y="0" text-anchor="middle" font-family='"DejaVu Serif Condensed", "DejaVu Serif", "Liberation Serif", serif' font-size="32.76" word-spacing="5.85" textLength="201" lengthAdjust="spacingAndGlyphs">WAVE FIELD</text>
<text x="515" y="646.9" font-size="43" font-weight="normal" textLength="101.5" lengthAdjust="spacingAndGlyphs">t=975</text>
<text x="614.5" y="618.6" font-size="31" font-family='"Liberation Sans", "DejaVu Sans", sans-serif' textLength="27.5" lengthAdjust="spacingAndGlyphs">c)</text>
</g>
<g>
<path d="M833.36 577.4v5.2M842.43 577.4v5.2M851.49 577.4v5.2M860.55 577.4v5.2M869.62 577.4v5.2M878.68 577.4v5.2M887.74 577.4v5.2M896.81 577.4v5.2M905.87 577.4v5.2M914.93 577.4v9.3M924 577.4v5.2M933.06 577.4v5.2M942.12 577.4v5.2M951.19 577.4v5.2M960.25 577.4v5.2M969.31 577.4v5.2M978.38 577.4v5.2M987.44 577.4v5.2M996.5 577.4v5.2M1005.57 577.4v9.3M1014.63 577.4v5.2M1023.69 577.4v5.2M1032.76 577.4v5.2M1041.82 577.4v5.2M1050.88 577.4v5.2M1059.95 577.4v5.2M1069.01 577.4v5.2M1078.07 577.4v5.2M1087.14 577.4v5.2M1096.2 577.4v9.3M1105.26 577.4v5.2M1114.33 577.4v5.2M1123.39 577.4v5.2M1132.45 577.4v5.2M1141.52 577.4v5.2M1150.58 577.4v5.2M1159.64 577.4v5.2M1168.71 577.4v5.2M1177.77 577.4v5.2M1186.83 577.4v9.3M1195.9 577.4v5.2M1204.96 577.4v5.2M1214.02 577.4v5.2M1223.09 577.4v5.2M1232.15 577.4v5.2M1241.21 577.4v5.2M1250.28 577.4v5.2M1259.34 577.4v5.2M1268.4 577.4v5.2M1277.47 577.4v9.3M1286.53 577.4v5.2M1295.59 577.4v5.2M1304.66 577.4v5.2M1313.72 577.4v5.2M1322.78 577.4v5.2M1331.85 577.4v5.2M1340.91 577.4v5.2M1349.97 577.4v5.2M1359.04 577.4v5.2M833.36 1003v-5.2M842.43 1003v-5.2M851.49 1003v-5.2M860.55 1003v-5.2M869.62 1003v-5.2M878.68 1003v-5.2M887.74 1003v-5.2M896.81 1003v-5.2M905.87 1003v-5.2M914.93 1003v-9.3M924 1003v-5.2M933.06 1003v-5.2M942.12 1003v-5.2M951.19 1003v-5.2M960.25 1003v-5.2M969.31 1003v-5.2M978.38 1003v-5.2M987.44 1003v-5.2M996.5 1003v-5.2M1005.57 1003v-9.3M1014.63 1003v-5.2M1023.69 1003v-5.2M1032.76 1003v-5.2M1041.82 1003v-5.2M1050.88 1003v-5.2M1059.95 1003v-5.2M1069.01 1003v-5.2M1078.07 1003v-5.2M1087.14 1003v-5.2M1096.2 1003v-9.3M1105.26 1003v-5.2M1114.33 1003v-5.2M1123.39 1003v-5.2M1132.45 1003v-5.2M1141.52 1003v-5.2M1150.58 1003v-5.2M1159.64 1003v-5.2M1168.71 1003v-5.2M1177.77 1003v-5.2M1186.83 1003v-9.3M1195.9 1003v-5.2M1204.96 1003v-5.2M1214.02 1003v-5.2M1223.09 1003v-5.2M1232.15 1003v-5.2M1241.21 1003v-5.2M1250.28 1003v-5.2M1259.34 1003v-5.2M1268.4 1003v-5.2M1277.47 1003v-9.3M1286.53 1003v-5.2M1295.59 1003v-5.2M1304.66 1003v-5.2M1313.72 1003v-5.2M1322.78 1003v-5.2M1331.85 1003v-5.2M1340.91 1003v-5.2M1349.97 1003v-5.2M1359.04 1003v-5.2" stroke="#000" stroke-width="1.55" fill="none"/>
<path d="M824.3 992.36h7.2M824.3 981.72h7.2M824.3 971.08h7.2M824.3 960.44h7.2M824.3 949.8h7.2M824.3 939.16h7.2M824.3 928.52h7.2M824.3 917.88h7.2M824.3 907.24h7.2M824.3 896.6h13.4M824.3 885.96h7.2M824.3 875.32h7.2M824.3 864.68h7.2M824.3 854.04h7.2M824.3 843.4h7.2M824.3 832.76h7.2M824.3 822.12h7.2M824.3 811.48h7.2M824.3 800.84h7.2M824.3 790.2h13.4M824.3 779.56h7.2M824.3 768.92h7.2M824.3 758.28h7.2M824.3 747.64h7.2M824.3 737h7.2M824.3 726.36h7.2M824.3 715.72h7.2M824.3 705.08h7.2M824.3 694.44h7.2M824.3 683.8h13.4M824.3 673.16h7.2M824.3 662.52h7.2M824.3 651.88h7.2M824.3 641.24h7.2M824.3 630.6h7.2M824.3 619.96h7.2M824.3 609.32h7.2M824.3 598.68h7.2M824.3 588.04h7.2" stroke="#000" stroke-width="1.7" fill="none"/>
<path d="M1368.1 992.36h-5.4M1368.1 981.72h-5.4M1368.1 971.08h-5.4M1368.1 960.44h-5.4M1368.1 949.8h-5.4M1368.1 939.16h-5.4M1368.1 928.52h-5.4M1368.1 917.88h-5.4M1368.1 907.24h-5.4M1368.1 896.6h-11.5M1368.1 885.96h-5.4M1368.1 875.32h-5.4M1368.1 864.68h-5.4M1368.1 854.04h-5.4M1368.1 843.4h-5.4M1368.1 832.76h-5.4M1368.1 822.12h-5.4M1368.1 811.48h-5.4M1368.1 800.84h-5.4M1368.1 790.2h-11.5M1368.1 779.56h-5.4M1368.1 768.92h-5.4M1368.1 758.28h-5.4M1368.1 747.64h-5.4M1368.1 737h-5.4M1368.1 726.36h-5.4M1368.1 715.72h-5.4M1368.1 705.08h-5.4M1368.1 694.44h-5.4M1368.1 683.8h-11.5M1368.1 673.16h-5.4M1368.1 662.52h-5.4M1368.1 651.88h-5.4M1368.1 641.24h-5.4M1368.1 630.6h-5.4M1368.1 619.96h-5.4M1368.1 609.32h-5.4M1368.1 598.68h-5.4M1368.1 588.04h-5.4" stroke="#2a2a2a" stroke-width="1.25" fill="none"/>
<polygon points="824.3,761.36 826,762.86 827.7,761.36 829.4,762.86 831.1,761.36 832.8,762.86 834.5,761.36 836.2,762.86 837.9,761.36 839.6,762.86 841.3,761.36 843,762.86 844.7,761.36 846.4,762.86 848.1,761.36 849.8,764.31 851.5,765.2 853.2,769.1 854.9,769.99 856.6,772.67 858.3,772.17 860,774.67 861.7,774.16 863.4,776.66 865.1,776.16 866.8,778.66 868.5,778.15 870.2,780.34 871.9,778.94 873.6,780.54 875.3,779.14 877,780.74 878.7,779.34 880.4,780.94 882.1,779.54 883.8,781.14 885.5,779.74 887.2,781.34 888.9,779.94 890.6,781.54 892.3,780.14 894,781.74 895.7,780.34 897.4,781.94 899.1,780.54 900.8,782.14 902.5,780.74 904.2,782.34 905.9,780.94 907.6,782.54 909.3,781.14 911,782.74 912.7,781.34 914.4,782.94 916.1,781.5 917.8,783.04 919.5,781.58 921.2,783.12 922.9,781.66 924.6,783.2 926.3,781.74 928,783.28 929.7,781.82 931.4,783.36 933.1,781.9 934.8,783.44 936.5,781.98 938.2,783.46 939.9,781.84 941.6,783.21 943.3,781.59 945,782.97 946.7,781.35 948.4,782.73 950.1,781.1 951.8,782.48 953.5,780.86 955.2,782.24 956.9,780.62 958.6,781.99 960.3,780.37 962,781.75 963.7,780.13 965.4,781.51 967.1,779.89 968.8,781.26 970.5,779.64 972.2,781.02 973.9,779.4 975.6,780.78 977.3,779.15 979,780.53 980.7,778.91 982.4,780.29 984.1,778.67 985.8,780.04 987.5,778.42 989.2,779.8 990.9,778.18 992.6,779.56 994.3,777.93 996,779.31 997.7,777.69 999.4,779.07 1001.1,777.45 1002.8,778.82 1004.5,777.2 1006.2,778.58 1007.9,776.96 1009.6,778.34 1011.3,776.71 1013,778.09 1014.7,776.47 1016.4,777.85 1018.1,776.23 1019.8,777.64 1021.5,776.11 1023.2,777.59 1024.9,776.06 1026.6,777.53 1028.3,776.01 1030,777.48 1031.7,775.95 1033.4,777.43 1035.1,775.9 1036.8,777.37 1038.5,775.85 1040.2,777.32 1041.9,775.79 1043.6,777.27 1045.3,775.74 1047,777.21 1048.7,775.69 1050.4,777.16 1052.1,775.63 1053.8,777.11 1055.5,775.58 1057.2,777.05 1058.9,775.53 1060.6,777 1062.3,775.47 1064,776.95 1065.7,775.42 1067.4,776.89 1069.1,775.37 1070.8,776.84 1072.5,775.32 1074.2,776.79 1075.9,775.26 1077.6,776.74 1079.3,775.21 1081,776.68 1082.7,775.16 1084.4,776.63 1086.1,775.1 1087.8,776.56 1089.5,774.99 1091.2,776.43 1092.9,774.86 1094.6,776.29 1096.3,774.73 1098,776.16 1099.7,774.59 1101.4,776.03 1103.1,774.46 1104.8,775.89 1106.5,774.33 1108.2,775.76 1109.9,774.2 1111.6,775.63 1113.3,774.06 1115,775.5 1116.7,773.93 1118.4,775.36 1120.1,773.8 1121.8,775.23 1123.5,773.66 1125.2,775.1 1126.9,773.53 1128.6,775.05 1130.3,773.69 1132,775.33 1133.7,773.97 1135.4,775.62 1137.1,774.26 1138.8,775.9 1140.5,774.54 1142.2,776.19 1143.9,774.83 1145.6,776.47 1147.3,775.11 1149,776.76 1150.7,775.4 1152.4,777.04 1154.1,775.69 1155.8,777.33 1157.5,775.97 1159.2,777.61 1160.9,776.35 1162.6,778.11 1164.3,776.88 1166,778.64 1167.7,777.41 1169.4,779.18 1171.1,777.94 1172.8,779.71 1174.5,778.48 1176.2,780.24 1177.9,779.01 1179.6,780.77 1181.3,779.54 1183,781.31 1184.7,780.07 1186.4,781.84 1188.1,780.6 1189.8,782.37 1191.5,781.13 1193.2,782.89 1194.9,781.66 1196.6,783.42 1198.3,782.18 1200,783.95 1201.7,782.71 1203.4,784.47 1205.1,783.24 1206.8,785 1208.5,783.76 1210.2,785.42 1211.9,783.92 1213.6,785.42 1215.3,783.92 1217,785.42 1218.7,783.92 1220.4,785.42 1222.1,783.92 1223.8,785.42 1225.5,783.92 1227.2,785.42 1228.9,783.92 1230.6,785.42 1232.3,783.92 1234,785.42 1235.7,783.92 1237.4,785.42 1239.1,783.92 1240.8,785.42 1242.5,783.92 1244.2,785.42 1245.9,783.92 1247.6,785.42 1249.3,783.92 1251,785.42 1252.7,783.92 1254.4,785.42 1256.1,783.92 1257.8,785.42 1259.5,783.92 1261.2,785.42 1262.9,783.92 1264.6,785.42 1266.3,783.92 1268,785.42 1269.7,783.92 1271.4,785.42 1273.1,783.92 1274.8,785.42 1276.5,783.92 1278.2,785.41 1279.9,783.88 1281.6,785.36 1283.3,783.84 1285,785.32 1286.7,783.79 1288.4,785.27 1290.1,783.75 1291.8,785.22 1293.5,783.7 1295.2,785.18 1296.9,783.66 1298.6,785.13 1300.3,783.61 1302,785.09 1303.7,783.57 1305.4,785.04 1307.1,783.52 1308.8,785 1310.5,783.47 1312.2,784.95 1313.9,783.43 1315.6,784.91 1317.3,783.38 1319,784.86 1320.7,783.34 1322.4,784.81 1324.1,783.29 1325.8,784.77 1327.5,783.25 1329.2,784.72 1330.9,783.2 1332.6,784.68 1334.3,783.15 1336,784.63 1337.7,783.11 1339.4,784.59 1341.1,783.06 1342.8,784.49 1344.5,782.93 1346.2,784.36 1347.9,782.79 1349.6,784.23 1351.3,782.66 1353,784.09 1354.7,782.53 1356.4,783.96 1358.1,782.39 1359.8,783.83 1361.5,782.26 1363.2,783.69 1364.9,782.13 1366.6,783.56 1368.1,782.75 1368.1,797.65 1366.6,796.84 1364.9,798.27 1363.2,796.71 1361.5,798.14 1359.8,796.57 1358.1,798.01 1356.4,796.44 1354.7,797.87 1353,796.31 1351.3,797.74 1349.6,796.17 1347.9,797.61 1346.2,796.04 1344.5,797.47 1342.8,795.91 1341.1,797.34 1339.4,795.81 1337.7,797.29 1336,795.77 1334.3,797.25 1332.6,795.72 1330.9,797.2 1329.2,795.68 1327.5,797.15 1325.8,795.63 1324.1,797.11 1322.4,795.59 1320.7,797.06 1319,795.54 1317.3,797.02 1315.6,795.49 1313.9,796.97 1312.2,795.45 1310.5,796.93 1308.8,795.4 1307.1,796.88 1305.4,795.36 1303.7,796.83 1302,795.31 1300.3,796.79 1298.6,795.27 1296.9,796.74 1295.2,795.22 1293.5,796.7 1291.8,795.18 1290.1,796.65 1288.4,795.13 1286.7,796.61 1285,795.08 1283.3,796.56 1281.6,795.04 1279.9,796.52 1278.2,794.99 1276.5,796.48 1274.8,794.98 1273.1,796.48 1271.4,794.98 1269.7,796.48 1268,794.98 1266.3,796.48 1264.6,794.98 1262.9,796.48 1261.2,794.98 1259.5,796.48 1257.8,794.98 1256.1,796.48 1254.4,794.98 1252.7,796.48 1251,794.98 1249.3,796.48 1247.6,794.98 1245.9,796.48 1244.2,794.98 1242.5,796.48 1240.8,794.98 1239.1,796.48 1237.4,794.98 1235.7,796.48 1234,794.98 1232.3,796.48 1230.6,794.98 1228.9,796.48 1227.2,794.98 1225.5,796.48 1223.8,794.98 1222.1,796.48 1220.4,794.98 1218.7,796.48 1217,794.98 1215.3,796.48 1213.6,794.98 1211.9,796.48 1210.2,794.98 1208.5,796.64 1206.8,795.4 1205.1,797.16 1203.4,795.93 1201.7,797.69 1200,796.45 1198.3,798.22 1196.6,796.98 1194.9,798.74 1193.2,797.51 1191.5,799.27 1189.8,798.03 1188.1,799.8 1186.4,798.56 1184.7,800.33 1183,799.09 1181.3,800.86 1179.6,799.63 1177.9,801.39 1176.2,800.16 1174.5,801.92 1172.8,800.69 1171.1,802.46 1169.4,801.22 1167.7,802.99 1166,801.76 1164.3,803.52 1162.6,802.29 1160.9,804.05 1159.2,802.79 1157.5,804.43 1155.8,803.07 1154.1,804.71 1152.4,803.36 1150.7,805 1149,803.64 1147.3,805.29 1145.6,803.93 1143.9,805.57 1142.2,804.21 1140.5,805.86 1138.8,804.5 1137.1,806.14 1135.4,804.78 1133.7,806.43 1132,805.07 1130.3,806.71 1128.6,805.35 1126.9,806.87 1125.2,805.3 1123.5,806.74 1121.8,805.17 1120.1,806.6 1118.4,805.04 1116.7,806.47 1115,804.9 1113.3,806.34 1111.6,804.77 1109.9,806.2 1108.2,804.64 1106.5,806.07 1104.8,804.51 1103.1,805.94 1101.4,804.37 1099.7,805.81 1098,804.24 1096.3,805.67 1094.6,804.11 1092.9,805.54 1091.2,803.97 1089.5,805.41 1087.8,803.84 1086.1,805.3 1084.4,803.77 1082.7,805.24 1081,803.72 1079.3,805.19 1077.6,803.66 1075.9,805.14 1074.2,803.61 1072.5,805.08 1070.8,803.56 1069.1,805.03 1067.4,803.51 1065.7,804.98 1064,803.45 1062.3,804.93 1060.6,803.4 1058.9,804.87 1057.2,803.35 1055.5,804.82 1053.8,803.29 1052.1,804.77 1050.4,803.24 1048.7,804.71 1047,803.19 1045.3,804.66 1043.6,803.13 1041.9,804.61 1040.2,803.08 1038.5,804.55 1036.8,803.03 1035.1,804.5 1033.4,802.97 1031.7,804.45 1030,802.92 1028.3,804.39 1026.6,802.87 1024.9,804.34 1023.2,802.81 1021.5,804.29 1019.8,802.76 1018.1,804.17 1016.4,802.55 1014.7,803.93 1013,802.31 1011.3,803.69 1009.6,802.06 1007.9,803.44 1006.2,801.82 1004.5,803.2 1002.8,801.58 1001.1,802.95 999.4,801.33 997.7,802.71 996,801.09 994.3,802.47 992.6,800.84 990.9,802.22 989.2,800.6 987.5,801.98 985.8,800.36 984.1,801.73 982.4,800.11 980.7,801.49 979,799.87 977.3,801.25 975.6,799.62 973.9,801 972.2,799.38 970.5,800.76 968.8,799.14 967.1,800.51 965.4,798.89 963.7,800.27 962,798.65 960.3,800.03 958.6,798.41 956.9,799.78 955.2,798.16 953.5,799.54 951.8,797.92 950.1,799.3 948.4,797.67 946.7,799.05 945,797.43 943.3,798.81 941.6,797.19 939.9,798.56 938.2,796.94 936.5,798.42 934.8,796.96 933.1,798.5 931.4,797.04 929.7,798.58 928,797.12 926.3,798.66 924.6,797.2 922.9,798.74 921.2,797.28 919.5,798.82 917.8,797.36 916.1,798.9 914.4,797.46 912.7,799.06 911,797.66 909.3,799.26 907.6,797.86 905.9,799.46 904.2,798.06 902.5,799.66 900.8,798.26 899.1,799.86 897.4,798.46 895.7,800.06 894,798.66 892.3,800.26 890.6,798.86 888.9,800.46 887.2,799.06 885.5,800.66 883.8,799.26 882.1,800.86 880.4,799.46 878.7,801.06 877,799.66 875.3,801.26 873.6,799.86 871.9,801.46 870.2,800.06 868.5,802.25 866.8,801.74 865.1,804.24 863.4,803.74 861.7,806.24 860,805.73 858.3,808.23 856.6,807.73 854.9,810.41 853.2,811.3 851.5,815.2 849.8,816.09 848.1,819.04 846.4,817.54 844.7,819.04 843,817.54 841.3,819.04 839.6,817.54 837.9,819.04 836.2,817.54 834.5,819.04 832.8,817.54 831.1,819.04 829.4,817.54 827.7,819.04 826,817.54 824.3,819.04" fill="#000"/>
<path d="M848.55 769.56l2.3 0l-1.5 7.6l-2.3 0zM848.55 779.76l2.3 0l-1.5 12l-2.3 0zM847.05 794.36l2.3 0l1.5 12l-2.3 0zM847.05 808.96l2.3 0l1.5 2.52l-2.3 0zM851.45 750.61l2.3 0l-1.5 12l-2.3 0zM851.45 765.21l2.3 0l-1.5 12l-2.3 0zM851.45 779.81l2.3 0l-1.5 12l-2.3 0zM849.95 794.41l2.3 0l1.5 12l-2.3 0zM849.95 809.01l2.3 0l1.5 12l-2.3 0zM849.95 823.61l2.3 0l1.5 7.35l-2.3 0zM854.35 666.45l2.3 0l-1.5 6.8l-2.3 0zM854.35 675.85l2.3 0l-1.5 12l-2.3 0zM854.35 690.45l2.3 0l-1.5 12l-2.3 0zM854.35 705.05l2.3 0l-1.5 12l-2.3 0zM854.35 719.65l2.3 0l-1.5 12l-2.3 0zM854.35 734.25l2.3 0l-1.5 12l-2.3 0zM854.35 748.85l2.3 0l-1.5 12l-2.3 0zM854.35 763.45l2.3 0l-1.5 12l-2.3 0zM854.35 778.05l2.3 0l-1.5 12l-2.3 0zM852.85 792.65l2.3 0l1.5 12l-2.3 0zM852.85 807.25l2.3 0l1.5 12l-2.3 0zM852.85 821.85l2.3 0l1.5 12l-2.3 0zM852.85 836.45l2.3 0l1.5 12l-2.3 0zM852.85 851.05l2.3 0l1.5 12l-2.3 0zM852.85 865.65l2.3 0l1.5 12l-2.3 0zM852.85 880.25l2.3 0l1.5 12l-2.3 0zM852.85 894.85l2.3 0l1.5 12l-2.3 0zM852.85 909.45l2.3 0l1.5 0.83l-2.3 0zM857.25 619.13l2.3 0l-1.5 12l-2.3 0zM857.25 633.73l2.3 0l-1.5 12l-2.3 0zM857.25 648.33l2.3 0l-1.5 12l-2.3 0zM857.25 662.93l2.3 0l-1.5 12l-2.3 0zM857.25 677.53l2.3 0l-1.5 12l-2.3 0zM857.25 692.13l2.3 0l-1.5 12l-2.3 0zM857.25 706.73l2.3 0l-1.5 12l-2.3 0zM857.25 721.33l2.3 0l-1.5 12l-2.3 0zM857.25 735.93l2.3 0l-1.5 12l-2.3 0zM857.25 750.53l2.3 0l-1.5 12l-2.3 0zM857.25 765.13l2.3 0l-1.5 12l-2.3 0zM857.25 779.73l2.3 0l-1.5 12l-2.3 0zM855.75 794.33l2.3 0l1.5 12l-2.3 0zM855.75 808.93l2.3 0l1.5 12l-2.3 0zM855.75 823.53l2.3 0l1.5 12l-2.3 0zM855.75 838.13l2.3 0l1.5 12l-2.3 0zM855.75 852.73l2.3 0l1.5 12l-2.3 0zM855.75 867.33l2.3 0l1.5 12l-2.3 0zM855.75 881.93l2.3 0l1.5 12l-2.3 0zM855.75 896.53l2.3 0l1.5 12l-2.3 0zM855.75 911.13l2.3 0l1.5 12l-2.3 0zM855.75 925.73l2.3 0l1.5 12l-2.3 0zM855.75 940.33l2.3 0l1.5 1.3l-2.3 0zM860.15 618.7l2.3 0l-1.5 6l-2.3 0zM860.15 627.3l2.3 0l-1.5 12l-2.3 0zM860.15 641.9l2.3 0l-1.5 12l-2.3 0zM860.15 656.5l2.3 0l-1.5 12l-2.3 0zM860.15 671.1l2.3 0l-1.5 12l-2.3 0zM860.15 685.7l2.3 0l-1.5 12l-2.3 0zM860.15 700.3l2.3 0l-1.5 12l-2.3 0zM860.15 714.9l2.3 0l-1.5 12l-2.3 0zM860.15 729.5l2.3 0l-1.5 12l-2.3 0zM860.15 744.1l2.3 0l-1.5 12l-2.3 0zM860.15 758.7l2.3 0l-1.5 12l-2.3 0zM860.15 773.3l2.3 0l-1.5 12l-2.3 0zM858.65 787.9l2.3 0l1.5 12l-2.3 0zM858.65 802.5l2.3 0l1.5 12l-2.3 0zM858.65 817.1l2.3 0l1.5 12l-2.3 0zM858.65 831.7l2.3 0l1.5 12l-2.3 0zM858.65 846.3l2.3 0l1.5 12l-2.3 0zM858.65 860.9l2.3 0l1.5 12l-2.3 0zM858.65 875.5l2.3 0l1.5 12l-2.3 0zM858.65 890.1l2.3 0l1.5 12l-2.3 0zM858.65 904.7l2.3 0l1.5 12l-2.3 0zM858.65 919.3l2.3 0l1.5 12l-2.3 0zM858.65 933.9l2.3 0l1.5 12l-2.3 0zM858.65 948.5l2.3 0l1.5 3.64l-2.3 0zM861.55 654.88l2.3 0l1.5 12l-2.3 0zM861.55 669.48l2.3 0l1.5 12l-2.3 0zM861.55 684.08l2.3 0l1.5 12l-2.3 0zM861.55 698.68l2.3 0l1.5 12l-2.3 0zM861.55 713.28l2.3 0l1.5 12l-2.3 0zM861.55 727.88l2.3 0l1.5 12l-2.3 0zM861.55 742.48l2.3 0l1.5 12l-2.3 0zM861.55 757.08l2.3 0l1.5 12l-2.3 0zM861.55 771.68l2.3 0l1.5 12l-2.3 0zM863.05 786.28l2.3 0l-1.5 12l-2.3 0zM863.05 800.88l2.3 0l-1.5 12l-2.3 0zM863.05 815.48l2.3 0l-1.5 12l-2.3 0zM863.05 830.08l2.3 0l-1.5 12l-2.3 0zM863.05 844.68l2.3 0l-1.5 12l-2.3 0zM863.05 859.28l2.3 0l-1.5 12l-2.3 0zM863.05 873.88l2.3 0l-1.5 12l-2.3 0zM863.05 888.48l2.3 0l-1.5 12l-2.3 0zM863.05 903.08l2.3 0l-1.5 12l-2.3 0zM863.05 917.68l2.3 0l-1.5 1.76l-2.3 0zM864.45 699.49l2.3 0l1.5 5.2l-2.3 0zM864.45 707.29l2.3 0l1.5 12l-2.3 0zM864.45 721.89l2.3 0l1.5 12l-2.3 0zM864.45 736.49l2.3 0l1.5 12l-2.3 0zM864.45 751.09l2.3 0l1.5 12l-2.3 0zM864.45 765.69l2.3 0l1.5 12l-2.3 0zM864.45 780.29l2.3 0l1.5 12l-2.3 0zM865.95 794.89l2.3 0l-1.5 12l-2.3 0zM865.95 809.49l2.3 0l-1.5 12l-2.3 0zM865.95 824.09l2.3 0l-1.5 12l-2.3 0zM865.95 838.69l2.3 0l-1.5 12l-2.3 0zM865.95 853.29l2.3 0l-1.5 12l-2.3 0zM865.95 867.89l2.3 0l-1.5 12l-2.3 0zM865.95 882.49l2.3 0l-1.5 1.37l-2.3 0zM867.35 730.27l2.3 0l1.5 12l-2.3 0zM867.35 744.87l2.3 0l1.5 12l-2.3 0zM867.35 759.47l2.3 0l1.5 12l-2.3 0zM867.35 774.07l2.3 0l1.5 12l-2.3 0zM868.85 788.67l2.3 0l-1.5 12l-2.3 0zM868.85 803.27l2.3 0l-1.5 12l-2.3 0zM868.85 817.87l2.3 0l-1.5 12l-2.3 0zM868.85 832.47l2.3 0l-1.5 12l-2.3 0zM868.85 847.07l2.3 0l-1.5 3.81l-2.3 0zM870.25 747.04l2.3 0l1.5 4.4l-2.3 0zM870.25 754.04l2.3 0l1.5 12l-2.3 0zM870.25 768.64l2.3 0l1.5 12l-2.3 0zM870.25 783.24l2.3 0l1.5 12l-2.3 0zM871.75 797.84l2.3 0l-1.5 12l-2.3 0zM871.75 812.44l2.3 0l-1.5 12l-2.3 0zM871.75 827.04l2.3 0l-1.5 10.58l-2.3 0zM873.15 757.29l2.3 0l1.5 11.3l-2.3 0zM873.15 771.19l2.3 0l1.5 12l-2.3 0zM874.65 785.79l2.3 0l-1.5 12l-2.3 0zM874.65 800.39l2.3 0l-1.5 12l-2.3 0zM874.65 814.99l2.3 0l-1.5 8.78l-2.3 0zM876.05 768.64l2.3 0l1.5 3.6l-2.3 0zM876.05 774.84l2.3 0l1.5 12l-2.3 0zM877.55 789.44l2.3 0l-1.5 12l-2.3 0zM877.55 804.04l2.3 0l-1.5 8.39l-2.3 0zM878.95 782.11l2.3 0l1.5 10.5l-2.3 0zM880.45 795.21l2.3 0l-1.5 2.82l-2.3 0zM858.7 590.17l2.3 0l-1.5 12l-2.3 0zM858.7 604.77l2.3 0l-1.5 12l-2.3 0zM858.7 619.37l2.3 0l-1.5 10.16l-2.3 0zM857.2 944.96l2.3 0l1.5 12l-2.3 0zM857.2 959.56l2.3 0l1.5 12l-2.3 0zM857.2 974.16l2.3 0l1.5 7.56l-2.3 0z" fill="#000"/>
<path d="M888.11 775.79l2.6 0l0.9 3.7l-2.6 0zM888.11 781.19l2.6 0l0.9 10l-2.6 0zM888.11 792.89l2.6 0l0.9 10l-2.6 0zM892.11 763.85l2.6 0l-0.9 7.7l-2.6 0zM892.11 773.25l2.6 0l-0.9 10l-2.6 0zM892.11 784.95l2.6 0l-0.9 10l-2.6 0zM892.11 796.65l2.6 0l-0.9 10l-2.6 0zM892.11 808.35l2.6 0l-0.9 7.92l-2.6 0zM894.31 750.77l2.6 0l0.9 10l-2.6 0zM894.31 762.47l2.6 0l0.9 10l-2.6 0zM894.31 774.17l2.6 0l0.9 10l-2.6 0zM894.31 785.87l2.6 0l0.9 10l-2.6 0zM894.31 797.57l2.6 0l0.9 10l-2.6 0zM894.31 809.27l2.6 0l0.9 10l-2.6 0zM894.31 820.97l2.6 0l0.9 6.67l-2.6 0zM898.31 741.26l2.6 0l-0.9 4l-2.6 0zM898.31 746.96l2.6 0l-0.9 10l-2.6 0zM898.31 758.66l2.6 0l-0.9 10l-2.6 0zM898.31 770.36l2.6 0l-0.9 10l-2.6 0zM898.31 782.06l2.6 0l-0.9 10l-2.6 0zM898.31 793.76l2.6 0l-0.9 10l-2.6 0zM898.31 805.46l2.6 0l-0.9 10l-2.6 0zM898.31 817.16l2.6 0l-0.9 10l-2.6 0zM898.31 828.86l2.6 0l-0.9 10l-2.6 0zM900.51 748.94l2.6 0l0.9 8l-2.6 0zM900.51 758.64l2.6 0l0.9 10l-2.6 0zM900.51 770.34l2.6 0l0.9 10l-2.6 0zM900.51 782.04l2.6 0l0.9 10l-2.6 0zM900.51 793.74l2.6 0l0.9 10l-2.6 0zM900.51 805.44l2.6 0l0.9 10l-2.6 0zM900.51 817.14l2.6 0l0.9 10l-2.6 0zM900.51 828.84l2.6 0l0.9 1.38l-2.6 0zM904.51 763.79l2.6 0l-0.9 10l-2.6 0zM904.51 775.49l2.6 0l-0.9 10l-2.6 0zM904.51 787.19l2.6 0l-0.9 10l-2.6 0zM904.51 798.89l2.6 0l-0.9 10l-2.6 0zM904.51 810.59l2.6 0l-0.9 8.95l-2.6 0zM906.71 770.82l2.6 0l0.9 4.3l-2.6 0zM906.71 776.82l2.6 0l0.9 10l-2.6 0zM906.71 788.52l2.6 0l0.9 10l-2.6 0zM906.71 800.22l2.6 0l0.9 9.57l-2.6 0zM910.71 774.55l2.6 0l-0.9 8.3l-2.6 0zM910.71 784.55l2.6 0l-0.9 10l-2.6 0zM910.71 796.25l2.6 0l-0.9 10l-2.6 0zM912.91 776.82l2.6 0l0.9 0.6l-2.6 0zM912.91 779.12l2.6 0l0.9 10l-2.6 0zM912.91 790.82l2.6 0l0.9 10l-2.6 0zM912.91 802.52l2.6 0l0.9 1.33l-2.6 0zM916.91 779.31l2.6 0l-0.9 4.6l-2.6 0zM916.91 785.61l2.6 0l-0.9 10l-2.6 0zM916.91 797.31l2.6 0l-0.9 4.12l-2.6 0zM919.11 781.84l2.6 0l0.9 8.6l-2.6 0zM919.11 792.14l2.6 0l0.9 6.16l-2.6 0z" fill="#000"/>
<rect x="824.3" y="577.4" width="543.8" height="425.6" fill="none" stroke="#000" stroke-width="1.85"/>
<text x="815" y="600.7" text-anchor="end" font-size="30.2" font-family='"DejaVu Serif", "Liberation Serif", serif' font-weight="normal" stroke="#000" stroke-width="1.35">2</text>
<text x="815" y="696.6" text-anchor="end" font-size="30.2" font-family='"DejaVu Serif", "Liberation Serif", serif' font-weight="normal" stroke="#000" stroke-width="1.35">1</text>
<text x="815" y="803" text-anchor="end" font-size="30.2" font-family='"DejaVu Serif", "Liberation Serif", serif' font-weight="normal" stroke="#000" stroke-width="1.35">0</text>
<text x="815" y="909.4" text-anchor="end" font-size="30.2" font-family='"DejaVu Serif", "Liberation Serif", serif' font-weight="normal" stroke="#000" stroke-width="1.35">1</text>
<text x="765.8" y="908.4" font-size="30.2" font-family='"DejaVu Serif", "Liberation Serif", serif' font-weight="normal" stroke="#000" stroke-width="0.2" textLength="27.8" lengthAdjust="spacingAndGlyphs">−</text>
<text x="815" y="1001.4" text-anchor="end" font-size="30.2" font-family='"DejaVu Serif", "Liberation Serif", serif' font-weight="normal" stroke="#000" stroke-width="1.35">2</text>
<text x="766.9" y="1001.7" font-size="30.2" font-family='"DejaVu Serif", "Liberation Serif", serif' font-weight="normal" stroke="#000" stroke-width="1.9" textLength="25.6" lengthAdjust="spacingAndGlyphs">−</text>
<text x="915.13" y="1050.4" text-anchor="middle" font-size="31.9" textLength="63.5" lengthAdjust="spacingAndGlyphs" font-family='"DejaVu Serif", "Liberation Serif", serif' font-weight="normal" stroke="#000" stroke-width="1.35">100</text>
<text x="1005.77" y="1050.4" text-anchor="middle" font-size="31.9" textLength="63.5" lengthAdjust="spacingAndGlyphs" font-family='"DejaVu Serif", "Liberation Serif", serif' font-weight="normal" stroke="#000" stroke-width="1.35">200</text>
<text x="1096.4" y="1050.4" text-anchor="middle" font-size="31.9" textLength="63.5" lengthAdjust="spacingAndGlyphs" font-family='"DejaVu Serif", "Liberation Serif", serif' font-weight="normal" stroke="#000" stroke-width="1.35">300</text>
<text x="1187.03" y="1050.4" text-anchor="middle" font-size="31.9" textLength="63.5" lengthAdjust="spacingAndGlyphs" font-family='"DejaVu Serif", "Liberation Serif", serif' font-weight="normal" stroke="#000" stroke-width="1.35">400</text>
<text x="1277.67" y="1050.4" text-anchor="middle" font-size="31.9" textLength="63.5" lengthAdjust="spacingAndGlyphs" font-family='"DejaVu Serif", "Liberation Serif", serif' font-weight="normal" stroke="#000" stroke-width="1.35">500</text>
<text x="1368.3" y="1050.4" text-anchor="middle" font-size="31.9" textLength="63.5" lengthAdjust="spacingAndGlyphs" font-family='"DejaVu Serif", "Liberation Serif", serif' font-weight="normal" stroke="#000" stroke-width="1.35">600</text>
<text x="1097.2" y="1091.6" text-anchor="middle" font-size="28.3" textLength="19.3" lengthAdjust="spacingAndGlyphs" font-family='"DejaVu Serif", "Liberation Serif", serif' font-weight="normal" stroke="#000" stroke-width="1.35">x</text>
<text transform="translate(736.9 790.8) rotate(-90)" x="0" y="0" text-anchor="middle" font-family='"DejaVu Serif Condensed", "DejaVu Serif", "Liberation Serif", serif' font-size="33.6" word-spacing="6" textLength="204" lengthAdjust="spacingAndGlyphs">WAVE FIELD</text>
<text x="1177" y="637.6" font-size="43" font-weight="normal" textLength="126" lengthAdjust="spacingAndGlyphs">t=1150</text>
<text x="1322" y="617.9" font-size="31" font-family='"Liberation Sans", "DejaVu Sans", sans-serif' textLength="29.5" lengthAdjust="spacingAndGlyphs">d)</text>
</g>
</svg>
</body>
</html>
